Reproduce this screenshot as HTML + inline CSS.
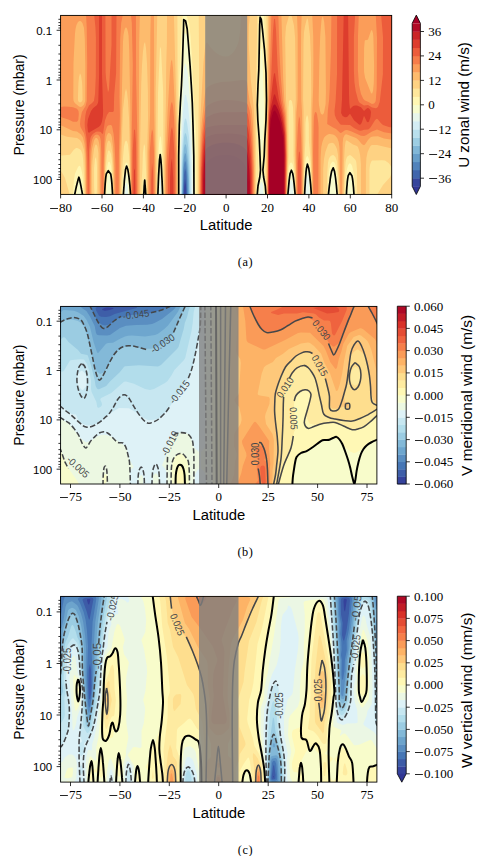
<!DOCTYPE html>
<html><head><meta charset="utf-8"><title>Figure</title>
<style>html,body{margin:0;padding:0;background:#fff}svg{display:block}text{fill:#000}</style></head>
<body>
<svg width="490" height="856" viewBox="0 0 490 856">
<rect width="490" height="856" fill="#fff"/>
<defs>
<clipPath id="c1"><rect x="60.6" y="15.4" width="331.1" height="179.0"/></clipPath>
<clipPath id="c2"><rect x="60.6" y="306.4" width="316.3" height="177.6"/></clipPath>
<clipPath id="c3"><rect x="60.6" y="596.4" width="316.3" height="185.7"/></clipPath>
</defs>
<g clip-path="url(#c1)">
<rect x="59" y="14" width="335" height="183" fill="#313695"/>
<path fill="#36459c" d="M393 196h-334v-182h334v182z"/>
<path fill="#4065ac" d="M393 196h-206.7l-0.3-10.7l-1-6.4l-1 9.2l-0.2 7.9h-124.8v-182h334v182z"/>
<path fill="#5183bb" d="M393 196h-205.9l-0.7-19l-0.4-4.9l-1-3.9l-1 6.5l-0.8 21.3h-124.2v-182h334v182z"/>
<path fill="#679ec9" d="M393 196h-205.2l-0.8-23.7l-1-9.4l-1-2.3l-1 4.4l-0.5 6l-0.8 25h-123.7v-182h334v182z"/>
<path fill="#81b7d7" d="M393 196h-204.5l-0.2-15l-0.8-14l-1.5-12.4l-1-1.9l-1 4.3l-1 11.6l-0.7 27.4h-123.3v-182h334v182z"/>
<path fill="#9dcee3" d="M393 196h-203.8l-0.2-18l-0.9-16l-1.5-14l-0.6-3l-1-1.1l-1 4l-1.2 14.1l-0.9 34h-122.9v-182h334v182z"/>
<path fill="#b9e0ed" d="M393 196h-203.1l-0.4-27l-1.2-21l-1.3-10.5l-1-3.7l-1-0.7l-1 4.3l-1.4 16.6l-0.9 20l-0.2 22h-122.5v-182h334v182z"/>
<path fill="#d4edf4" d="M393 196h-202.2l-0.4-30l-1.4-29.3l-2-14.2l-1-3.8l-1-0.3l-1 5.2l-1.9 24.4l-0.8 21l-0.2 27h-122.1v-182h334v182z"/>
<path fill="#e7f6eb" d="M393 196h-130.9l-0.1-2l-1 0.2l-0.1 1.8h-69l-0.5-35l-1.5-35l-1.9-21.9l-2-9l-1-0.1l-1 6.7l-1 11.6l-1.4 26.7l-0.9 28l-0.2 28h-121.5v-182h334v182z"/>
<path fill="#f7fcce" d="M393 196h-83.1l-0.9-16.4l-1-4.6l-1-0.4l-1 3.7l-0.3 2.7l-0.6 15h-11.4l-0.7-12.7l-1-3l-1-0.5l-1 1.2l-1 4l-0.4 11h-24.8l-0.8-10.5l-1-3.5l-1 0.1l-0.8 2.9l-1 11h-66.1l-0.5-40l-2.1-48l-2.5-33.7l-1.8-9.3l-0.2-0.8l-1-0.6l-1 4.8l-0.3 3.6l-2 39l-1.6 43l-0.3 42h-18.5l-0.3-16.4l-1-4.9l-0.9 21.3h-30.9l-0.4-9l-0.8-3.7l-1-0.4l-1 4.4l-0.4 8.7h-65.6v-182h334v182z"/>
<path fill="#fff7b3" d="M393 196h-39.8l-1.2-14.8l-1-4.8l-1-1.7l-1 1.4l-1 4.6l-1.2 15.3h-10.1l-1-17l-1.7-10l-1-1.1l-1 1.3l-2 9.4l-0.9 10.4l-0.2 7h-18.1l-0.8-20.9l-1-7.1l-1-3.2l-1-0.3l-1 2.6l-1 8.2l-0.5 20.7h-10l-0.5-16.4l-2-8.3l-1-0.6l-1 1.6l-1 3.5l-0.9 9.2l-0.2 11h-23l-0.9-14.9l-1-4.3l-1-1.9l-1 0.1l-0.5 1l-1.5 5l-1 15h-63.4l-0.2-33l-4.3-99l-2.1-26.3l-1-3.2l-1-0.7l-2-0.5l-1 2.5l-0.3 5.2l-2.3 60l-1.2 50l-0.1 45h-17l-0.6-29l-0.5-6.9l-1-2.3l-1.1 10.2l-0.6 28h-29.1l-0.2-12.6l-0.6-5.4l-0.4-2.7l-1-1.9l-1-0.2l-1 2.2l-1 5.7l-0.7 14.9h-11.7l-0.6-16.6l-1-4l-1-1.4l-1 1.5l-1 6.5l-0.5 14h-24.5l-0.6-13l-0.4-2.4l-1-1.8l-1 0.7l-1.2 3.5l-1.3 13h-17.5v-182h334v182zM262 150l1-10.4l1.3-28.6l-2.3-62l-1-0.2l-2.3 64.2l1.3 25.8l1 11.3l1 0.4v-0.5z"/>
<path fill="#fee79b" d="M178 196h-15.2l-0.2-27l-0.6-19.3l-1-12.2l-1-1.5l-1 7.5l-0.9 17.5l-0.5 35h-11.5l-0.4-11l-0.7-6.3l-1 0.4l-0.7 3.9l-0.5 13h-13.2l-0.6-25.1l-1-6.7l-1-1.5l-1-0.3l-1 1.7l-0.4 1.9l-1.6 11.7l-0.7 18.3h-9.9l-0.2-16l-0.5-8l-0.7-6.1l-1-3.3l-1-1.2l-1 1.2l-1 5.7l-1 10.7l-0.4 17h-22.3l-0.3-17l-1-6.6l-1-4.4l-1-2.2l-1 0.1l-1 1.2l-3.1 6.9l-1.1 7l-0.9 15h-13.9v-182h124.1l-1.2 7l-0.6 8l-2.3 58l-0.5 109h-0.5zM256 196h-59.6l-0.1-47l-0.7-27l-1.6-17.6l-1.6-39.4l-2-30l-1.4-11.9l-2.3-7.1l-0.3-2h72.7l-0.9 29l-1 68l0.5 36l0.8 23l-1.2 12l-0.4 14h-0.9zM393 196h-37.7l-0.4-13l-0.9-8.6l-1.9-8.4l-1.1-2.1l-1-0.6l-1 0.5l-1 1.6l-1.2 4.6l-1.1 10l-0.6 16h-7.2l-0.5-16l-1.2-12l-1.2-4.6l-1-1.5l-1-0.4l-1 0.5l-1.4 2l-1.6 6.7l-0.9 11.3l-0.3 14h-16.4l-0.3-18l-1.1-13.6l-1-5.2l-1-2.8l-1-0.5l-1 2.1l-1 6l-0.9 17l-0.1 15h-8.9l-0.2-13l-0.9-11.4l-1-6.3l-1-2.5l-1-0.4l-1 0.9l-1 3.2l-1.2 13.5l-0.3 16h-21.8l-0.3-13l-1.1-13l1.4-59l-0.7-71l-1.1-26h129.1v182z"/>
<path fill="#fed283" d="M177 196h-13.4l-0.4-104l-2.2-43.1l-1-2.2l-2 46.5l-1.1 102.8h-10.2l-0.2-14l-1.3-32l-0.2-3.8l-1-2.1l-1.1 8.9l-0.5 17l-0.9 13l-0.1 13h-11.3l-0.2-17l-0.9-24.3l-1-10l-1-3.1l-1-1l-1 1.4l-1 4.4l-1 11l-1.4 24.6l-0.2 14h-8.5l-0.2-20l-0.7-15l-1-6.9l-1-2.7l-1-1.1l-1 0.8l-1 4.4l-1 9.5l-0.8 17l-0.2 14h-8.5l0.5-8v-20l-0.3-6l-0.7-5.1l-1 2.1l-0.9 9v18l0.5 10h-10.2l-0.2-18l-1-18l-0.8-6l-1.4-3.7l-2-1.6l-2-0.8l-1 0.1l-2.4 2l-3.6 4.7l-8 0.7l-2.6 0.6l-0.4 0.8v-142.8h118.4l0.5 182h-0.9zM256 196h-58.3l0.1-33l1.4-91l-0.5-58h58.7l-1.5 82l0.1 100zM393 196h-16l0.5-2l5.5-9l7-7.8l2.8-6.2l0.1-1l-0.4-1l-2.3-4l-1.6-2l-3.6-2.4l-3-0.4l-9 0.2l-1 0.2l-1 1.4l-1 3.1l-0.5 3.9v27h-12.3l-0.2-26l-0.6-7l-0.4-2l-1-1.7l-3.4-3.3l-1.6-0.9l-2 0.8l-1 1.2l-1 2.6l-0.4 2.3l-1 15l-0.5 19h-5.5l-0.4-19l-1.2-15.5l-1.6-4.5l-1.4-1.6l-1-0.3l-2 0.7l-1.2 1.2l-1 2l-0.8 3.8l-0.8 11.2l-0.3 22h-15l-0.9-32.2l-2.1-22.8l-0.1-17l-0.8-7l-1-1.9l-1 3l-0.6 5.9v17l-1.4 25.9l-0.5 29.1h-8l-0.3-18l-1.7-22v-33l-0.5-15.6l-1-6l-1-1.3l-1-0.1l-1 1.1l-0.5 6.9l0.2 48l-1.4 25l-0.1 15h-20.9l-0.5-26l0.7-62l0.2-69l-0.3-25h126.6v182zM69 196h-10v-27l3 3.5l3 5.6l4.5 15.9l0.2 2h-0.7z"/>
<path fill="#fdbb6d" d="M156 196h-8.5l-0.4-43l0.9-34l-0.1-27l-0.9-28.4l-1-15.3l-1-6.2l-1 1.8l-1 7.4l-1 13.9l-0.8 19.8l-1.2 66v45h-9.5l-0.3-31l-1.2-47l-1-17l-1-9l-1-3.4l-1 3.7l-2.1 17.7l-2.3 71v15h-7.1l-0.2-27l-0.9-16l-1.4-9.1l-1-2.3l-1-1.1l-1 0.4l-1 2.8l-1 7l-1 17.6l-0.5 27.7h-6l-0.1-43l-0.9-6l-0.5-1.6l-1-1.1l-1 1.2l-1 3.5l-1.5 12l-0.4 8l0.1 27h-7l-0.2-27l-0.5-14l-0.5-5.1l-2-6.7l-2-3.1l-3-2l-10-1.4l-8-2.7v-120h98.3l-1.6 78l0.3 104zM177 196h-12.6l0.1-32l1.4-63l0.3-35l0.7-24l0.1-28h6.9l3.1 116.9l0.3 50.1v15h-0.3zM255 196h-56.4l0.3-34l1.4-44l3.2-56l1.5-13.5l1-5.2l1-1.1l3.4 4.8l3.6 4l3 2.5l3 1.8l3 1l3 0.3l2.7-0.6l2.3-1.4l2.5-2.6l2-3l1.9-4l1.3-4l1.7-12l0.6-15h9l-1.1 12l-0.2 18l2.1 36l2.8 26l0.6 10l0.7 32l0.1 48zM365 196h-4l-0.1-32l-0.8-9l-1.1-5l-1-2.7l-1-1.3l-4-1.6l-6-3.9l-1 0.1l-0.5 1.4l-0.8 6l-0.8 16l-0.6 32h-3.9l-0.3-17l-1.1-24.2l-1-5.6l-1-2.5l-2-3.3l-2-0.6l-3 0.7l-1 1.2l-2.6 7.3l-1.4 6.9l-0.8 10.1v27h-10.9l-1.2-54l-0.3-30l0.5-19l-0.4-35l-0.9-21.7l-2-16.5l-1-1.7l-2 8.2l-1 6l-0.5 10.7l-0.4 56l0.5 12v33l-0.5 52h-7.2l-0.1-15l-0.9-26l0.3-43l0.6-13l-0.7-61l-1.1-12.2l-2-8.6l-1-2.1l-1-1l-0.3 0.9l-0.7 0.6l-3 10.8l-0.8 11.6l0.8 61l1 13l0.7 33v13l-0.8 24l-0.1 14h-19.9l-0.2-42l1.5-140h124.8v134.7l-16-3.7h-5l-1 0.5l-1 1.3l-2.4 5.2l-1.2 6l-0.5 10v28h-0.9zM81.4 102l1.2-2l-0.3-13l-0.3-5.3l-1-6.5l-1-1.9l-1 3.7l-0.6 6l-0.5 16l0.3 2l0.8 1l1 0.5l1.4-0.5z"/>
<path fill="#fb9d59" d="M138 196h-7.1l-0.6-88l-1.1-58l-0.6-14l-0.6-4l-1-3.5l-1-1.2l-1 1.1l-0.5 1.6l-1 5l-0.5 7.1l-1.7 78.9l-1.2 33l-0.4 42h-5.4l-0.2-28l-1-21l-1.3-10l-0.8-2.4l-1-1.2l-1-0.5l-1 0.3l-1.4 2.8l-1.3 8l-0.8 21l-0.5 31h-4l-0.2-47l-0.7-6l-0.8-3l-1.3-1.9l-1-0.2l-1 0.7l-1.1 2.4l-1.7 7l-0.6 5l-0.6 13l-0.1 30h-4.9l-0.1-28l-0.4-14l-1-10l-1.5-6.5l-2-2.9l-4-3.2l-4-0.5l-11-5.1l-3-0.8v-111h80.9l-0.7 28l-0.6 154h-0.6zM155 196h-6.7l0.1-44l1.7-39l0.2-77l0.5-22h3.2l0.2 99l0.9 47l0.2 36h-0.3zM286 196h-18.7l0.2-70l2.1-112h11.8l1.8 65l1.2 22l1.6 12.4l1 23.6l0.2 22l-0.8 37h-0.4zM302 196h-5.6l-0.6-44l0.6-39l1.2-13l0.1-22v-43l-0.7-21h4.7l-0.6 18l-0.1 24l0.3 44l0.7 12l0.7 47l-0.1 37h-0.6zM342 196h-1.8l-0.5-42l-0.3-7l-0.7-5l-1.5-4l-2.2-2.5l-2-0.9l-3-0.5h-1l-2.1 0.9l-1.9 1.4l-1 1.3l-1.6 4.3l-1.1 5l-0.7 11l-0.1 38h-7.7l-0.7-57l0.2-27l0.9-26l0.2-26l-0.2-24l-1-22h80.8v126l-9-1.6l-6-2.2l-5 0.3l-2 0.6l-1.1 0.9l-1.9 2l-3 4.6l-1 0.7l-2-1.1l-4-4.7l-2-1.6l-9-3.5l-1-0.2l-1.3 0.8l-1.5 3l-0.5 5l-0.7 53zM323.3 114l0.7-1.2l1.6-8.8l0.3-12l-0.5-55l-1.2-15l-1.2-5.6l-1 1.2l-0.6 3.4l-1.2 15l-0.8 23l-0.7 41l0.3 5l1.3 7l0.7 1.7l1 0.8h1l0.3-0.5zM80.5 107l1.5-0.6l2-1.8l1.2-3.6l0.1-35l-0.5-27l-0.8-11l-1.6-5l-1.4-1.7l-1-0.4l-1 0.3l-1 0.9l-1.5 2.9l-1 4l-0.6 6l-1.4 28l-0.2 35l0.3 3l1.2 2l4.2 3.5l1.5 0.5zM372.3 93l0.7-2l0.8-8l0.3-17l-0.7-28l-0.4-4.7l-1-3.4l-1 0.8l-3 8.7l-1 0.6l-2 0.2l-0.3 0.8l-0.6 7l-0.1 17l0.1 7l1 6l5.9 14.9l1 0.8l0.3-0.7zM176 196h-10.7l0.2-32l2.1-52l2.4-41.8l1-8.7l1-2l1 8.3l3 60.2l0.6 25v43h-0.6zM254 196h-54.6l0.2-29l1.1-30l1.2-16l3.1-27.2l1-4.8l1-1.6l3-1.9l4-1.8l7-1.7l9-0.5l12-1.5l4 0.3l1 1.6l2.6 19.1l2.2 9l1.1 13l1.2 42l0.2 31h-0.3z"/>
<path fill="#f67c4a" d="M118 196h-2.5l-0.1-32l-0.8-19l-1-11l-1.6-7.9l-1-1l-1-0.1l-2 0.5l-1 1.3l-1.5 4.2l-0.9 6l-0.9 27l-0.3 32h-2l-0.1-43l-0.5-12l-0.5-3l-0.9-2l-1.1-1l-1.3-0.4l-2 0.5l-1.7 1.9l-1.3 3l-0.8 4l-0.8 7l-0.3 9l-0.2 36h-3.2l-0.1-34l-0.9-19l-0.7-5.7l-1-4l-3.5-6.3l-0.5-3l0.4-5l1.5-7l3.7-6l1.2-5l0.4-39l-0.5-35l-0.7-13h37l-1.8 9l-1 16l-0.7 58l0.4 18l-1 39l-0.2 42h-0.7zM137 196h-5.5l0.2-57l1.1-74l-1-42l-0.8-7.2l-1-1.8h5.9l0.2 62l1.3 63l0.1 57h-0.5zM286 196h-18.4l0.4-73l2.1-59l1.3-50h6.9l1.2 39l1.2 23l2 24l2.4 15l1.2 20l0.4 21l-0.7 40zM366 135.2l-2 0.7l-3-0.2l-10-4.5l-4-1.1l-2 0.1l-4 2.8l-1-0.2l-4-3.9l-3-1.3l-5.8-3.6l0.6-13l1.3-11l0.6-11l1.3-41l0.4-34h27.4l-0.8 22l-0.1 34l1.1 14.9l2 9.1l2.4 5l1.6 1.6l3 1.1l4 2.2l2-0.4l1-1l0.7-1.5l1-13l0.3-50l-1.3-24h17.3v119.8l-9-1.6l-7-2.7l-5 2l-6 3.7zM253 196h-52.9l0.2-23l0.7-21l1-17.1l1.6-14.9l1.4-9.4l1-3.4l2-1.9l5-2.7l4-1.4l4-0.9l5-0.3l6 0.2l7 0.9l7 1.7l1 0.7l1 1.8l1.5 4.7l0.8 4l1.9 23l1.2 31v28h-0.4zM175 196h-8.6l0.1-29l1.1-22l2.4-34.5l1-6.7l1-2l1 4.3l1 11.2l1.7 33.7l0.2 45h-0.9zM77 121.7h-4l-4-2l-10-3.2v-9.1l5-0.8l5 0.1l4 0.6l4 1.5l1.5 2.2l0.3 3l-0.5 6l-1.3 1.7zM318 196h-4.6l-0.3-43l0.7-32l0.2-4.7l0.5-2.3l0.5-1.8l1-0.1l1 2l1.3 8.9l0.3 5l-0.3 68h-0.3zM301 196h-4.1l-0.2-45l1.3-26l1-8.8l1 2.6l1.1 18.2l0.8 27l0.1 32h-1zM154 196h-4.4l0.1-44l1.3-15.9l1-6.8l1 2.8l1 19.9l0.4 44h-0.4z"/>
<path fill="#ec5c3b" d="M88 196l-0.5-44l-1-14l-1.7-11l-0.1-4l0.6-7l1-5l2.7-5.6l3.1-2.4l1.8-2l1.1-6.9l0.8-18.1l0.1-38l-0.5-11l-1.3-13h11.3l0.2 58l0.5 7l1.9 13.3l1-2.8l2.5-44.5v-31h5l-0.4 59l-1.9 22l-0.4 16l-0.8 0.9l-4 0.1l-2 3.1l-2 5.5l-2 13.2l-1-0.1l-1-1.4l-1-0.6l-2-0.3l-2 0.3l-3.2 2.3l-1.5 2l-0.8 2l-0.8 5l-0.6 7l-0.4 17l-0.1 29h-0.6zM362 130.4l-2 0.3l-1-0.3l-5-2.3l-4-3l-9-0.3l-1-0.7l-3.7-5.1l-1.5-4l-0.3-4l1.1-10l1.4-27l0.1-60h18.1l-1.3 23v34l0.5 11l1.3 9l2.4 9l0.9 1.9l1 1l4 2.6l4-0.4l4 2.3l4 0.8l1-0.4l1-1.1l1.7-4.7l3.2-28l0.1-37l-2-23h12v113.6l-4.2-0.6l-5.8-2.1l-2-1.6l-3-3.9l-1-0.6l-1 0.4l-1 1l-4.2 6.8l-1.8 2l-1 0.5l-4 0.2l-2 0.7zM285 196h-17v-47l0.6-34l2.7-41l1.7-43l1-11.8l1-0.4l1 10.6l1.5 35.6l1.1 15l2.5 21l3.2 16l1.4 17l0.5 25l-0.5 37h-0.7zM252 196h-51.2l0.3-28l1.2-23l1.2-13l1.5-10.5l1-3.5l1-1.1l7-3.1l7-1.5l24-0.3l2 0.5l1 2.3l1 5.8l1.6 14.4l1 13l1 26v22h-0.6zM174 196h-6.1l0.3-31l1.8-25.4l1-9.3l1-3.2l1 5l1.5 21.9l0.3 42h-0.8zM136 196h-3.7l0.4-45l1.3-21.3h1l1 13.3l0.6 53h-0.6zM301 196h-3.1v-33l1.1-11.8l1 1.6l0.9 13.2l0.1 30zM153 196h-1.8v-15l0.8-18.2l1 8.6l0.3 24.6h-0.3z"/>
<path fill="#dd3d2d" d="M90 132.1l-1 0.8l-1-1.1l-0.1-0.8l-0.6-6l0.7-6l3-8l2.3-3l3.7-3.1l0.9-1.9l0.4-2l0.8-26v-61h2.9v60l1.1 37l-0.2 5l-0.9 5.4l-1 2.9l-1 1.5l-1.4 1.2l-8.6 5.1zM360 124.7l-1-0.3l-5-4.1l-4-6.6l-2.9 3.3l-2.1 0.3l-2.4-1.3l-1.5-3l0.9-13.8l1.7-85.2h4.4l0.9 79.3l0.3 9.7l0.7 6l3.1-3l1.9-0.5l2 0.1l4 1.6l3 3.7l3-2.6l1-0.2l1 0.4l1.3 1.5l0.7 2l-0.5 5l-1.5 4.4l-1 0.9l-1-0.4l-3-6.1l-2 6.2l-1 2l-1 0.7zM285 196h-16.7v-48l0.7-32.7l4-35.2l1-6.7l1-0.1l3.8 25.7l2.9 11l1.6 8l1.7 14.2l0.7 22.8l-0.4 41h-0.3zM251 196h-49.5l0.3-27l1.1-19l2.1-18.2l1-3.6l1-1l7-1.5l7-0.6l24-0.1h1l1 0.6l1 3l1 6.3l2 21.6l0.7 16.5l0.1 23h-0.8zM173 196h-3.1l0.2-19l0.9-13.7l1-4.9l1.3 20.6l0.1 17h-0.4zM135 196h-1.5l0.5-27.5l1 2.2l0.3 25.3h-0.3z"/>
<path fill="#ca2427" d="M284 196h-15.4v-47l0.6-28l0.8-9.4l1-5.2l3-11.9l1-0.1l6 18.5l2 9.5l1.5 11.6l0.7 19l-0.3 43h-0.9zM250 196h-47.8l0.2-20l1.2-21l1.4-12.6l1-4.3l1-1.3l4-1.6l5-1.1l13-0.5l7 0.3l5 0.8l4.3 1.3l1.7 1.5l1 3.9l1 7.5l1.4 18.1l0.6 29h-1z"/>
<path fill="#b10b26" d="M284 196h-15.1l0.1-49l0.7-24l0.3-4.2l1.4-7.8l1.6-5l1-1.4l1-0.1l1 1.2l2.2 4.3l1.8 5.3l2 8.5l2 12.5l0.6 18.7l-0.2 41h-0.4zM249 196h-45.9l0.1-15l0.8-16.2l1-10.5l1-5.1l1-1.5l5-2.7l5-1.5l5-0.7l7-0.1l5 0.6l5 1.5l4 2.2l3 2.7l1 1.9l1 5.1l1.1 11.3l0.8 14v14h-0.9z"/>
<path fill="#a50026" d="M283 196h-13.6l0.1-44l0.5-22.8l1-9l1-4.5l1-3.2l0.8-1.5l1.2-0.4l2 3.3l3 8.1l3.1 16l0.7 20l-0.1 38h-0.7zM248 196h-43.3v-15l0.8-12l0.5-4.2l1-2.6l1-1.2l3-2.4l4-2l4-1l5-0.6l5 0.1l5 1l4 1.8l2.9 2.1l2.1 2.3l1.8 2.7l1.2 2.6l1 3.5l1.2 10.9l0.1 14h-0.3z"/>
<path d="M74.3 196.4L74.8 194.0L75.3 191.6L75.8 189.2L76.3 186.8L76.9 184.4L77.5 182.0L78.1 179.6L78.9 177.2L79.6 179.6L80.1 182.0L80.6 184.4L81.1 186.8L81.5 189.2L82.0 191.6L82.4 194.0L82.8 196.4M104.5 196.4L104.6 193.2L104.8 190.0L105.0 186.8L105.2 183.6L105.5 180.3L105.8 177.1L106.3 173.9L108.3 170.7L110.7 173.9L111.2 177.1L111.6 180.3L111.9 183.6L112.1 186.8L112.3 190.0L112.5 193.2L112.7 196.4M123.3 196.4L123.5 192.6L123.8 188.8L124.1 185.0L124.3 181.2L124.7 177.4L125.1 173.6L125.5 169.8L126.6 166.0L127.9 169.8L128.5 173.6L129.0 177.4L129.4 181.2L129.8 185.0L130.1 188.8L130.4 192.6L130.7 196.4M143.6 196.4L143.7 194.3L143.9 192.3L144.0 190.2L144.1 188.2L144.2 186.2L144.4 184.1L144.5 182.1L144.7 180.0L144.9 182.1L145.0 184.1L145.2 186.2L145.3 188.2L145.5 190.2L145.6 192.3L145.8 194.3L145.9 196.4M157.8 196.4L158.0 191.2L158.2 186.0L158.4 180.8L158.6 175.6L158.9 170.3L159.2 165.1L159.5 159.9L160.2 154.7L160.9 159.9L161.3 165.1L161.6 170.3L161.8 175.6L162.1 180.8L162.3 186.0L162.5 191.2L162.7 196.4M287.8 196.4L288.0 193.1L288.3 189.8L288.6 186.6L288.9 183.3L289.2 180.0L289.6 176.8L290.1 173.5L291.4 170.2L292.7 173.5L293.3 176.8L293.7 180.0L294.1 183.3L294.4 186.6L294.7 189.8L295.0 193.1L295.2 196.4M304.5 196.4L304.7 192.4L304.9 188.3L305.2 184.3L305.4 180.3L305.7 176.3L306.0 172.2L306.5 168.2L307.4 164.2L308.7 168.2L309.3 172.2L309.8 176.3L310.2 180.3L310.6 184.3L310.9 188.3L311.2 192.4L311.5 196.4M328.3 196.4L328.6 192.8L329.0 189.2L329.4 185.7L329.9 182.1L330.3 178.5L330.9 175.0L331.6 171.4L333.2 167.8L334.5 171.4L335.1 175.0L335.6 178.5L336.0 182.1L336.4 185.7L336.7 189.2L337.0 192.8L337.3 196.4M346.3 196.4L346.5 193.4L346.6 190.5L346.8 187.5L347.1 184.6L347.3 181.6L347.7 178.6L348.2 175.7L349.9 172.7L351.9 175.7L352.5 178.6L352.9 181.6L353.2 184.6L353.5 187.5L353.7 190.5L353.9 193.4L354.1 196.4M178.7 196.4L178.7 156.0L179.3 125.0L180.4 103.0L181.5 85.0L182.3 66.0L183.0 45.0L183.5 29.0L183.7 19.6L185.6 21.0L187.2 29.0L188.5 45.0L190.1 66.0L191.3 85.0L192.3 103.0L193.0 125.0L193.8 156.0L194.0 196.4M257.1 196.4L258.0 186.0L259.8 177.0L260.5 170.0L260.0 156.0L259.3 140.0L257.8 120.0L257.3 105.0L258.0 85.0L258.8 70.0L259.3 45.0L259.7 25.0L260.1 17.2L261.3 19.5L262.5 30.0L264.5 50.0L266.0 73.0L266.5 100.0L266.0 120.0L264.8 140.0L264.2 156.0L262.9 170.0L263.6 177.0L265.3 186.0L266.1 196.4" fill="none" stroke="#000" stroke-width="1.7" stroke-linejoin="round"/>
<rect x="205.2" y="15.4" width="42.0" height="179.0" fill="#808080" fill-opacity="0.8"/>
</g>
<g clip-path="url(#c2)">
<rect x="59" y="305" width="320" height="181" fill="#35429b"/>
<path fill="#3e5ea8" d="M378 485h-319v-180h319v180zM109.7 310l3.1-1l1.1-1l-5.9-0.5l-3 0.3l-2.6 1.2l-0.2 1l2.8 0.7l4.7-0.7z"/>
<path fill="#4676b5" d="M378 485h-319v-180h319v180zM106 317l4-0.7l4.6-2.3l21.8-6l0.8-1l-12.2-1.1l-17-0.4l-9 0.7l-3 1.2l-0.4 0.6l0.3 2l3.1 5.7l2 1.1l5 0.2z"/>
<path fill="#5a8ec1" d="M378 485h-319v-180h30.7l1 3l6.3 12.3l2 2.2l3 2.3l3 0.8l5-1.4l7-5.1l5-2.2l9-1.8l17-1.6l5-1l10.5-3.5l3.8-2l2-2h208.7v180z"/>
<path fill="#6ea6ce" d="M378 485h-319v-180h22l0.1 2l0.7 1l4.6 3l3.6 5.5l4.7 9.5l1.3 7l1 1.7l2 0.5l8 0.4l3-0.6l10-6.9l6-2.3l10-0.9l11-0.2l5-0.8l3-1.1l7-3.9l11-8.7l2.2-2.2l1.4-3h201.4v180z"/>
<path fill="#83b9d8" d="M378 485h-319v-171.8l1.1-0.2l2.9-2.8l1-0.3l10 0.9l4 1.4l5.8 3.8l2.8 4l3.4 7l3.6 15l3.4 10.2l1 1.1l8-9.5l2-0.7l5-0.3l7-4.1l5-2.3l3-0.7l4-0.2l13 1l10-1.5l3-1.3l6-4.4l4-3.8l10-13.8l3.1-6.7h196.9v180z"/>
<path fill="#9bcce2" d="M378 485h-319v-162.8l8-2.7h5l6 1.6l3 2l2 2.2l2 4l2 6.5l4.7 17.2l3.3 15.1l2 3.4l3 2.4l3-1.2l2-1.6l9-16.3l3.3-3.8l4.7-3.3l4-1.2l5-0.3l5 0.7l7 1.8l8 0.1l5-1.2l6-3.1l6.2-5.5l4.8-5.6l12.6-28.4h192.4v180z"/>
<path fill="#b2ddeb" d="M378 485h-319v-146.6l1 1.8l3-2.9l2 0.3l3.5 4.4l9.5 8.1l3 3.7l6.3 1.2l0.7 1l3 9.4l3.7 14.6l0.9 6l1.4 2.6l1 0.7h1l7.2-3.3l3.8-4.4l10-9.6l3.9-5l1.1-0.7l14-1.1l19 1.3l3-1.6l16-15.8l1.5-2.1l5.2-18l1.1-6l2.3-6l1.4-6l2.1-6h187.4v180z"/>
<path fill="#c7e7f1" d="M378 485h-319v-113l4-0.6l1-0.9l6-10l2-0.6l8-0.7l4 0.3l3 4.5l2.3 7l1.8 10l-0.1 8l0.6 3l4.8 10l0.8 5l0.8 0.7l1 0.1l2-1.2l1-1.6l-0.2-2l-1.4-3l-0.1-1l0.8-1l10.2-5l12.7-11.3l2-0.2l8 2.3l11 5.3l5 0.9l4-1.1l11-6l2.6-1.9l4.1-6l2.7-5l9.6-10l1.2-2l6.3-27l1.2-8l1-11l1.9-7h182.4v180z"/>
<path fill="#def2f7" d="M378 485h-319v-79.4l3 1.3l9 6.8l2 0.6l3 0.1l2.3 5.6l1.7 2.3l4 2.3l4 0.9l5-0.5l4-1.4l5-3.4l8-6.7l9-5.4l10 0.1l8 4.8l5 4.3l6 2.8l2 0.2l5-0.7l3-0.8l2-1.2l7-7.2l12.5-17.4l8.3-14l4.1-10l4.6-20l3-19l0.6-7l0.5-18h177.4v180zM83 389.9h-1l-4-4.2l-1-4.7l0.1-4l0.9-2.9l2-2.4l2-1.3l3 2.8l1 1.5l1 6.3l-0.2 3l-0.8 2.4l-3 3.5z"/>
<path fill="#ecf8e2" d="M378 485h-172.3l0.4-4l-0.4-6l-1.7-3.6l-1.7-1.4l-0.3-0.9l-0.7-0.1l-0.3-1v-16l3-3.6l1-2l0.3-2.4l-0.1-10l-0.9-4l1-3l0.4-5l-0.8-35l0.2-82h172.9v180zM129 485h-70v-66.9l3 1.2l7.1 4.7l4.9 5.4l6 8.3l6 4.8l5-1.8l6-4.3l4-1.4l3-0.3l3 0.6l5 1.8l12 8.2l2.8 3.7l2.4 10l4.5 8l-2.7 2.6l-1.1 2.4v13h-0.9zM194 485h-27.4v-13l-1.6-3.6l-1.7-1.4l-0.3-0.9l-0.7-0.1l-0.2-1l3.9-9.1l1.6-7.9l3.1-9l2.3-3.2l4-2.4l3-0.6h4l3 0.8l2.4 1.4l0.8 1l3 10l1.8 2.4l4 3.6v16l-0.2 1l-0.8 0.4l-1 1.3l-2 3.7l-0.5 5.6l0.4 5h-0.9zM157 485h-4.3l0.3-8.7l1-1.8l2-1.4l2 2.6l1.5 4.3l-1.5 4.4l-1 0.6zM142 485l-2-0.4l-1.9-4.6l0.9-2.6l2-2.3l1 0.2l1 1.6l0.5 2.1l-0.5 5l-1 1z"/>
<path fill="#f8fccb" d="M378 485h-166.1l-1.2-180h167.3v180zM79 485h-20v-36.1l1 1l3 5.8l5 11.9l9.4 13.4l1.6 3l0.3 1h-0.3zM189 485h-17.9l0.3-14l0.9-8l0.7-2.3l2-3.7l2-2.1l2-1.1l2-0.2l2 0.9l3 3.4l2 3.4l0.7 3.7l0.5 7l0.2 13h-0.4zM104 484.7l-1 0.1l-0.6-5.8l0.6-2.5l2-2.4l1 0.2l1 1.2l0.7 1.5l0.2 2l-0.9 2.7l-3 3z"/>
<path fill="#fff8b5" d="M292 485h-75.4l-0.7-180h162.1v135.5l-3 0.5l-4.3 2l-7.7 5.7l-8 4.3h-2l-1-1h-1l-2-1.5l-5-4.1l-4-5.5l-3-2.1l-2-0.3l-2 0.2l-9 1.9l-3 1.2l-13 8.6l-6 2.6l-4.3 4l-1.7 3.4l-1 3.9l-1.7 10.7l-0.3 10h-1zM182 485l-4-0.2l-1-1.6l-0.7-3.2l0.1-5l0.9-5l0.7-2.2l1-1.3l1-0.4l1 0.3l1.3 1.6l1.8 7l-0.1 6.8l-1 2.3l-1 0.9z"/>
<path fill="#feeba1" d="M279 485h-58.5l0.1-180h157.4v111l-13 10.4l-4 2.1l-6 1.5l-4-0.4l-13.6-5.6l-3.4-0.8l-8 0.4l-9 1.4l-7-1.3l-1-0.6l-3.7-9.1l1.7-3.9l2-8.1l0.9-5l-0.3-3l-1.1-2l-2.5-1.5l-3 0.3l-3 1.5l-3.4 3.7l-1.6 3.3l-1 3.7l-0.1 6l1 4l-0.9 3v6.1l1 3.5l1.2 1.4l0.2 1l-2.4 4l-2.7 15l-7.3 19.5l-4.5 18.5h-0.5z"/>
<path fill="#fede8e" d="M276 485h-52.3l1.8-180h152.5v104.2l-2.4 0.8l-15.1 8l-7.5 2.7h-5l-10.9-1.7l-6.1-1.2l-5-1.8l-2-1.7l-1.4-2.3l-5.6-27l-2.9-8l-2.1-3.8l-3.2-4.2l-1.8-1.4l-2-0.9h-4l-4 2l-4 4.3l-5 8.4l-2 4.6l-1.7 7l-0.8 8l-1.4 50l-2.1 15l-3.7 19h-0.3zM356.2 385l1.8-1.2l1.8-2.8l0.7-3v-4l-0.5-2.8l-1-1.7l-2-1.9l-2-0.5l-2 1.4l-1.9 3.5l-0.5 7l0.4 2.7l1 1.7l3 2.3l1.2-0.7z"/>
<path fill="#fec87a" d="M273 485h-46.2l1.1-30l0.3-25l0.6-9l-0.2-20l1.2-33l0.8-63h147.4v99.1l-2.4-1.1l-1.9-2l-1.7-4.4l-1.3-5.6l-0.7-11l-1.1-8l-3.9-15.7l-2-3.1l-5-3.6l-1-0.1l-3 2.2l-3 3.4l-2.7 12.9l-4.1 29l0.7 5l3.1 1.6l1 1.4l0.1 2l-1.1 1.2l-2.1-0.2l-2.9-1.6l-2.7 1.6l-4.3 0.8l-3-0.1l-2-1.3l-1.4-3.4l-0.7-10l-3.9-15.6l-8-17.8l-4-5.8l-3-2.1l-4-0.6l-4 0.9l-6 3.1l-9.1 8.9l-2.2 3l-4.4 9l-3.8 11l-1.2 9l-0.7 16l1 11l1.8 13l0.5 14l-2.6 25l-1.5 9h-0.8z"/>
<path fill="#fdb366" d="M271 485h-40.9l0.4-2l1.7-3l1.9-6l0.8-12l2-7l-0.3-2l-2.7-7l0.1-11l1-2.8l5.6-8.2l1-4l-0.3-4l-2.2-9l-3.1-3.6l-1.7-3.4l1.7-3l2.2-2l0.8-2l1.8-30l-0.6-4l-3.2-5l-0.9-3l1.6-32l-1.9-14h142.2v70.8l-1-2.6l-5.6-23.2l-2.4-6.3l-1.6-2.7l-2-2l-4.4-3.6l-2-0.5l-5.3 2.1l-6.5 9l-3 14l-1.9 13l-2.7 12l-1.6 4.7l-1 1.4l-1-0.3l-6.1-17.8l-5.4-10l-3.5-9.6l-7-7.3l-4-3.2l-2-0.3l-7 1l-12.1 5.4l-6.2 5l-6.7 3.9l-3.1 4.1l-6.9 3.5l-2 1.7l-2.4 6.8l-4 20l0.7 1l1.7 0.6l9 1.3l0.8 2.1l-0.4 5l-3.9 10l-0.5 3l1 7l6.5 10l1.4 6l-0.4 24l-0.9 6l-0.1 8l-0.8 7h-0.7z"/>
<path fill="#fa9b58" d="M336 369l-1-0.6l-4.8-6.4l-4.2-11.1l-2.5-4.9l-13.5-13.3l-9-0.1l-3 0.5l-12.9 6.9l-20.1 9.6l-2-0.2l-15-6.8l-1.2-1.6l-0.4-2l-1.1-18l-2.5-16h135.2v43.6l-2.1-7.6l-1-2l-12-10l-1.9-0.8l-1 0.1l-9 3.7l-2 1.6l-5.8 10.4l-1.7 7l-2.7 8l-1.8 8.5l-1 1.5zM269 485h-31.9l4.2-12l1.5-7l3.7-10l-0.3-3l-3.8-9l-0.5-3l10.1-16l2-2.8l1-0.5l1 0.6l3 3.6l10.2 15.1l-0.2 8l1.3 15l-0.5 5l0.4 6l-0.4 10h-0.8z"/>
<path fill="#f67f4b" d="M335 346.1l-1 0.7l-1-0.4l-4-3.2l-8.8-15.2l-6.2-7l-3-2l-2-0.6l-4-0.2l-10 3.2l-12 7.1l-6 2.4l-8 1.1l-5-1.4l-3.4-2.6l-4.6-8l-4-8.7l-1.3-4.3l-0.1-2h104.4l-7.6 20l-2.9 5l-4.5 11.2l-2 2.6l-3 2.3zM378 323.1l-2-1.3l-1.2-1.8l-6.2-12l-0.9-3h10.3v18.1zM267 485h-12.8l3.7-4l0.1-1l-1.4-14l0.4-2.3l1.7-2.7l-1.7-2.2l-0.8-1.8l-0.3-7l1.1-2.4l1-1.1l2-0.9l2 0.8l2 2l1.6 4.6l0.2 3l-1.5 4l1.7 1.6l1.3 3.4l0.7 18l-0.1 2h-0.9z"/>
<path fill="#ef633f" d="M335 335.1l-1 0.5l-1-0.5l-1-1.9l-1.2-10.2l-0.8-2l-2-0.5h-4l-5-3.1l-3-3l-2-1l-11-1.2l-6 1.3l-13 0.1l-6 1.3l-6.8-1.9l-0.1-1l4.9-1.9l6.2-3.1l7.8-1.2l18.1-0.8h34.4l1.5 0.5l2.6 1.5l0.3 1l-0.3 2l-4.5 11l-7.1 14.1zM378 310.7l-1.1-0.7l-3.1-5h4.2v5.7zM265 484h-2l-0.9-1l-1.1-4l-0.9-11l0.9-1.9l2-0.7l1.4 0.6l0.7 2l0.7 14l-0.8 2z"/>
<path fill="#e44c34" d="M333 313l-6 0.5l-13.7-5.5l5.5-1l11.2-0.5l5.8 0.5l2.5 1l0.9 2v1l-0.8 1l-5.4 1z"/>
<path d="M89.4 305.0C90.0 306.2 91.6 309.2 93.0 312.0C94.4 314.8 96.3 319.3 98.0 322.0C99.7 324.7 101.3 327.4 103.0 328.2C104.7 328.9 106.2 327.7 108.0 326.5C109.8 325.3 111.8 322.7 114.0 321.0C116.2 319.3 119.8 317.1 121.0 316.3M151.0 312.8C152.5 312.4 157.2 311.4 160.0 310.5C162.8 309.6 165.9 308.3 168.0 307.4C170.1 306.5 171.8 305.4 172.5 305.0M59.5 322.5C60.8 321.9 64.6 319.8 67.0 319.0C69.4 318.2 71.5 317.4 73.7 317.5C76.0 317.6 78.8 318.4 80.5 319.7C82.2 320.9 82.9 322.8 84.0 325.0C85.1 327.2 86.3 330.2 87.2 333.2C88.1 336.2 88.8 339.6 89.5 343.0C90.2 346.4 91.0 350.2 91.7 353.4C92.4 356.6 93.0 359.4 93.5 362.0C94.0 364.6 94.4 366.8 95.0 369.1C95.6 371.4 96.2 374.1 97.0 376.0C97.8 377.9 98.6 380.2 99.5 380.3C100.4 380.4 101.4 378.4 102.5 376.5C103.6 374.6 105.0 371.6 106.3 369.1C107.5 366.6 108.7 363.9 110.0 361.5C111.3 359.1 112.7 356.5 114.1 354.5C115.5 352.5 117.0 350.8 118.5 349.5C120.0 348.2 121.4 347.3 123.1 346.7C124.8 346.1 126.6 345.9 128.5 345.8C130.4 345.7 132.2 345.8 134.3 346.2C136.4 346.6 138.8 347.4 141.0 348.0C143.2 348.6 146.7 349.7 147.8 350.0M173.5 332.5C174.1 331.1 175.8 327.3 177.1 324.2C178.4 321.1 180.1 317.4 181.6 314.1C183.1 310.8 185.3 306.1 186.0 304.5M81.6 363.5C81.2 364.1 79.7 365.2 79.0 367.0C78.3 368.8 77.6 371.5 77.3 374.0C77.0 376.5 76.8 379.3 77.0 382.0C77.2 384.7 77.8 387.7 78.5 390.0C79.2 392.3 80.1 394.6 81.0 396.0C81.9 397.4 83.0 398.7 83.8 398.5C84.6 398.3 85.4 396.8 86.0 395.0C86.6 393.2 87.0 390.5 87.3 388.0C87.5 385.5 87.6 382.7 87.5 380.0C87.4 377.3 87.0 374.3 86.5 372.0C86.0 369.7 85.3 367.4 84.5 366.0C83.7 364.6 82.1 363.9 81.6 363.5M59.5 405.5C60.6 406.4 64.0 409.4 66.0 411.0C68.0 412.6 69.7 413.7 71.5 415.3C73.3 416.9 75.1 418.8 77.0 420.5C78.9 422.2 81.2 424.3 82.7 425.4C84.2 426.5 84.9 426.7 86.0 427.0C87.1 427.3 87.9 427.5 89.4 427.2C90.9 426.9 93.1 426.0 95.0 425.0C96.9 424.0 99.1 422.5 100.7 421.3C102.3 420.1 103.2 419.2 104.5 418.0C105.8 416.8 107.3 415.7 108.6 414.3C109.8 412.9 111.0 410.9 112.0 409.5C113.0 408.1 113.5 407.2 114.3 405.7C115.1 404.2 116.0 402.0 117.0 400.5C118.0 399.0 118.9 397.8 120.0 396.8C121.1 395.9 122.6 394.9 123.8 394.8C125.0 394.7 126.0 395.2 127.0 396.0C128.0 396.8 128.9 398.1 129.9 399.6C130.9 401.1 131.9 403.1 133.0 405.0C134.1 406.9 135.3 409.0 136.6 410.9C137.8 412.8 139.2 414.8 140.5 416.5C141.8 418.2 143.3 419.9 144.5 421.0C145.7 422.1 146.6 422.6 147.5 423.0C148.4 423.4 148.9 423.4 150.1 423.2C151.3 422.9 153.0 422.2 154.5 421.5C156.0 420.8 157.2 420.3 159.1 418.7C161.0 417.1 164.2 413.9 165.9 412.0C167.6 410.1 168.9 407.8 169.5 407.0M188.3 378.1C188.9 376.6 190.6 372.8 191.7 369.1C192.8 365.4 193.9 360.9 195.0 355.7C196.1 350.5 197.5 342.8 198.4 337.7C199.3 332.6 199.9 330.4 200.3 325.0C200.7 319.6 200.7 308.3 200.8 305.0M59.5 417.0C60.4 417.6 63.4 419.5 65.0 420.5C66.6 421.5 67.7 421.9 69.2 423.2C70.7 424.5 72.5 426.6 74.0 428.5C75.5 430.4 77.1 432.6 78.2 434.4C79.3 436.2 79.8 437.8 80.5 439.5C81.2 441.2 82.0 443.2 82.7 444.5C83.4 445.8 83.9 446.4 84.5 447.0C85.1 447.6 85.5 448.1 86.1 447.9C86.7 447.6 87.2 446.6 88.0 445.5C88.8 444.4 89.6 442.4 90.6 441.1C91.6 439.8 92.9 438.6 94.0 437.5C95.1 436.4 96.2 435.2 97.3 434.4C98.4 433.6 99.4 432.9 100.5 432.5C101.6 432.1 102.8 431.6 104.0 431.7C105.2 431.8 106.4 432.4 107.5 433.0C108.6 433.6 109.7 434.5 110.8 435.5C111.9 436.5 112.9 437.9 114.0 439.0C115.1 440.1 116.4 441.7 117.5 442.3C118.6 442.9 119.6 442.7 120.5 442.8C121.4 442.9 122.3 442.6 123.1 443.0C123.8 443.4 124.4 444.5 125.0 445.5C125.6 446.5 126.0 447.4 126.5 449.0C127.0 450.6 127.5 452.9 128.0 455.0C128.5 457.1 129.1 458.7 129.4 461.4C129.7 464.1 129.8 467.0 130.0 471.0C130.2 475.0 130.3 483.1 130.4 485.5M167.0 485.5C167.0 482.9 167.1 474.0 167.2 470.0C167.3 466.0 167.3 463.9 167.4 461.4C167.5 458.9 167.6 456.1 167.6 455.0M173.5 435.0C174.1 434.7 175.7 433.7 177.0 433.3C178.3 432.9 180.1 432.6 181.6 432.6C183.1 432.6 184.7 432.8 186.0 433.3C187.3 433.8 188.5 434.6 189.4 435.5C190.3 436.4 190.9 437.4 191.5 438.5C192.1 439.6 192.5 440.6 192.8 442.3C193.1 444.1 193.3 446.6 193.5 449.0C193.7 451.4 193.8 453.4 193.9 456.9C194.0 460.4 193.9 465.2 193.9 470.0C193.9 474.8 193.9 482.9 193.9 485.5M137.8 485.5C137.9 483.8 138.0 477.7 138.3 475.0C138.6 472.3 139.0 470.8 139.5 469.5C140.0 468.2 140.6 467.0 141.2 467.0C141.8 467.0 142.3 468.2 142.8 469.5C143.3 470.8 143.7 472.3 144.0 475.0C144.3 477.7 144.4 483.8 144.5 485.5M151.9 485.5C152.0 483.4 152.2 476.2 152.5 473.0C152.8 469.8 153.4 468.0 154.0 466.5C154.6 465.0 155.2 464.0 155.8 464.0C156.4 464.0 157.0 465.0 157.5 466.5C158.0 468.0 158.7 469.8 159.0 473.0C159.3 476.2 159.5 483.4 159.6 485.5M59.5 447.0C60.0 448.3 61.6 452.6 62.5 455.0C63.4 457.4 64.0 459.7 64.7 461.4C65.4 463.1 65.9 463.8 66.5 465.0C67.1 466.2 67.9 467.9 68.2 468.5M103.0 485.5C103.0 483.6 103.1 476.9 103.3 474.0C103.5 471.1 103.7 469.4 104.0 468.0C104.3 466.6 104.8 465.9 105.2 465.9C105.6 465.9 106.1 466.6 106.4 468.0C106.7 469.4 106.9 471.1 107.1 474.0C107.3 476.9 107.4 483.6 107.4 485.5M171.0 485.5C171.1 482.9 171.1 473.9 171.3 470.0C171.5 466.1 171.8 464.2 172.3 462.0C172.8 459.8 173.6 458.3 174.5 457.0C175.4 455.7 176.5 454.9 177.5 454.3C178.5 453.7 179.4 453.5 180.4 453.5C181.4 453.5 182.6 453.8 183.5 454.5C184.4 455.2 185.2 456.4 186.0 457.5C186.8 458.6 187.8 459.3 188.3 461.4C188.8 463.5 189.0 466.0 189.2 470.0C189.4 474.0 189.4 482.9 189.4 485.5M204.9 305.0C205.0 317.5 205.2 349.9 205.5 380.0C205.8 410.1 206.3 467.9 206.5 485.5M210.8 305.0C210.9 317.5 211.1 349.9 211.3 380.0C211.5 410.1 211.9 467.9 212.0 485.5" fill="none" stroke="#454749" stroke-width="1.55" stroke-dasharray="5.4 2.3" />
<path d="M220.6 305.0C220.6 317.5 220.6 349.9 220.6 380.0C220.6 410.1 220.6 467.9 220.6 485.5M225.5 305.0C225.4 317.5 225.1 349.9 224.8 380.0C224.5 410.1 223.9 467.9 223.7 485.5M230.8 305.0C230.5 317.5 229.7 349.9 229.0 380.0C228.3 410.1 227.1 467.9 226.7 485.5M249.4 305.0C250.0 306.5 251.6 310.8 253.0 314.0C254.4 317.2 256.5 321.4 258.0 324.0C259.5 326.6 260.6 328.1 262.0 329.5C263.4 330.9 264.8 332.2 266.6 332.6C268.4 333.0 270.6 332.5 273.0 332.0C275.4 331.5 278.4 330.8 280.9 329.7C283.4 328.6 285.6 326.9 288.0 325.5C290.4 324.1 292.8 322.3 295.1 321.1C297.4 319.9 299.9 319.2 302.0 318.5C304.1 317.8 306.2 317.1 308.0 317.0C309.8 316.9 311.8 317.8 312.5 318.0M328.5 343.5C328.9 344.5 330.1 347.6 331.0 349.5C331.9 351.4 332.8 354.7 333.7 354.9C334.6 355.1 335.6 352.3 336.5 350.5C337.4 348.7 338.2 346.9 339.4 344.0C340.6 341.1 342.1 336.8 343.5 333.0C344.9 329.2 346.8 324.3 348.0 321.1C349.2 317.9 349.9 316.8 351.0 314.0C352.1 311.2 354.2 306.1 354.8 304.5M367.5 305.0C368.2 306.3 370.2 309.7 372.0 313.0C373.8 316.3 377.0 323.0 378.0 325.0M260.3 485.5C260.2 483.9 259.9 478.8 259.5 476.0C259.1 473.2 258.4 469.8 258.2 468.5M259.0 442.7C259.3 442.7 260.1 442.2 260.7 442.6C261.2 443.0 261.6 443.5 262.3 444.9C263.0 446.3 264.1 448.5 264.8 451.0C265.5 453.5 266.2 456.5 266.6 459.7C267.1 462.9 267.3 465.7 267.5 470.0C267.7 474.3 267.9 482.9 268.0 485.5M273.3 485.5C273.7 483.8 274.9 478.4 275.5 475.0C276.1 471.6 276.2 469.4 276.6 465.4C277.0 461.4 277.9 455.3 278.0 451.1C278.1 446.9 277.7 443.3 277.5 440.0C277.3 436.7 277.0 434.4 276.6 431.1C276.2 427.8 275.6 423.3 275.3 420.0C275.0 416.7 274.7 414.1 274.6 411.1C274.5 408.1 274.7 404.9 274.8 402.0C274.9 399.1 274.9 396.7 275.3 394.0C275.8 391.3 276.6 388.9 277.5 386.0C278.4 383.1 279.7 379.7 281.0 376.5C282.3 373.3 283.9 369.6 285.5 367.0C287.1 364.4 289.1 362.9 290.9 361.1C292.6 359.3 294.1 357.4 296.0 356.0C297.9 354.6 300.6 353.3 302.3 352.6C304.0 351.9 304.8 351.9 306.0 351.8C307.2 351.7 308.3 351.7 309.4 352.0C310.5 352.3 312.0 353.2 312.5 353.5M325.3 378.5C325.7 379.9 326.8 384.1 327.5 387.0C328.2 389.9 329.0 392.4 329.4 396.0C329.8 399.6 329.0 405.8 329.6 408.3C330.2 410.8 331.6 410.8 333.0 411.0C334.4 411.2 336.8 410.7 338.0 409.7C339.2 408.7 339.8 406.7 340.5 405.0C341.2 403.3 341.6 401.9 342.3 399.7C343.0 397.5 343.8 394.6 344.5 392.0C345.2 389.4 345.9 387.7 346.6 384.0C347.3 380.3 347.8 375.2 348.5 370.0C349.2 364.8 350.0 356.8 350.9 352.6C351.8 348.4 352.8 346.9 354.0 345.0C355.2 343.1 356.8 340.8 358.0 341.0C359.2 341.2 360.3 343.6 361.5 346.0C362.7 348.4 364.0 352.2 365.0 355.4C366.0 358.6 366.8 361.7 367.5 365.0C368.2 368.3 368.9 371.9 369.4 375.4C369.9 378.9 370.2 382.6 370.5 386.0C370.8 389.4 370.7 393.2 371.0 396.0C371.3 398.8 371.1 401.0 372.3 402.6C373.5 404.2 377.1 405.3 378.0 405.8M276.4 485.5C277.1 481.2 279.9 467.8 280.9 459.7C281.9 451.6 281.9 443.5 282.3 436.9C282.7 430.3 282.8 425.3 283.0 420.0C283.2 414.7 283.2 408.8 283.3 405.0C283.4 401.2 283.6 398.3 283.6 397.0M289.4 378.3C289.9 377.3 291.2 374.2 292.5 372.5C293.8 370.8 295.1 369.0 297.0 367.8C298.9 366.6 301.9 365.4 303.7 365.4C305.5 365.3 306.6 366.3 308.0 367.5C309.4 368.7 310.8 370.7 312.0 372.5C313.2 374.3 314.2 375.9 315.1 378.3C316.0 380.7 316.8 384.1 317.5 387.0C318.2 389.9 318.7 393.0 319.4 396.0C320.1 399.0 320.8 402.0 321.5 405.0C322.2 408.0 322.4 411.9 323.7 414.0C324.9 416.1 327.1 416.6 329.0 417.5C330.9 418.4 332.7 418.6 335.1 419.1C337.5 419.6 340.6 420.2 343.5 420.5C346.4 420.8 349.6 421.4 352.3 421.1C355.1 420.8 357.6 419.4 360.0 418.5C362.4 417.6 363.6 417.0 366.6 415.4C369.6 413.8 376.1 409.7 378.0 408.6M355.0 362.6C354.4 363.3 352.4 365.1 351.5 367.0C350.6 368.9 349.9 371.7 349.6 374.0C349.3 376.3 349.3 378.8 349.6 381.0C349.9 383.2 350.7 385.6 351.5 387.0C352.3 388.4 353.4 389.7 354.5 389.7C355.6 389.7 357.0 388.4 358.0 387.0C359.0 385.6 359.8 383.2 360.3 381.0C360.8 378.8 361.0 376.3 360.9 374.0C360.8 371.7 360.5 368.9 359.5 367.0C358.5 365.1 355.8 363.3 355.0 362.6M345.6 403.6C346.2 403.6 348.8 402.8 349.4 403.6C350.0 404.4 350.0 407.8 349.4 408.6C348.8 409.4 346.2 409.4 345.6 408.6C345.0 407.8 345.6 404.4 345.6 403.6M278.0 485.5C278.9 482.1 281.6 471.6 283.7 465.4C285.8 459.2 289.3 453.2 290.9 448.3C292.5 443.4 292.9 438.1 293.3 436.0M294.2 401.0C294.5 400.1 295.0 397.1 296.0 395.5C297.0 393.9 298.5 392.5 300.0 391.5C301.5 390.5 303.5 389.8 305.0 389.7C306.5 389.6 308.0 390.2 309.0 391.0C310.0 391.8 310.9 392.6 311.0 394.5C311.1 396.4 310.1 399.5 309.4 402.6C308.6 405.7 307.4 409.7 306.5 413.0C305.6 416.3 304.1 420.1 304.3 422.6C304.6 425.2 306.4 427.7 308.0 428.3C309.6 428.9 311.9 427.2 314.0 426.5C316.1 425.8 318.6 424.6 320.9 424.0C323.2 423.4 325.6 423.1 328.0 422.8C330.4 422.6 332.5 422.0 335.1 422.5C337.7 423.0 340.6 424.8 343.5 426.0C346.4 427.2 349.9 429.2 352.3 429.7C354.7 430.2 356.1 429.5 358.0 429.0C359.9 428.5 361.7 428.1 363.7 426.9C365.7 425.7 367.6 424.1 370.0 422.0C372.4 419.9 376.7 415.8 378.0 414.6" fill="none" stroke="#454749" stroke-width="1.55"/>
<path d="M175.5 485.5C175.6 483.8 175.6 477.8 175.8 475.0C176.0 472.2 176.4 470.6 176.8 469.0C177.2 467.4 177.8 466.2 178.3 465.5C178.8 464.8 179.4 464.7 180.0 464.7C180.6 464.7 181.2 464.8 181.8 465.5C182.4 466.2 183.0 467.4 183.5 469.0C184.0 470.6 184.3 472.2 184.6 475.0C184.8 477.8 184.9 483.8 185.0 485.5M292.3 485.5C292.4 484.2 292.6 480.4 292.8 478.0C293.0 475.6 293.3 473.6 293.7 471.1C294.1 468.6 294.5 465.4 295.0 463.0C295.5 460.6 295.6 458.6 296.6 456.9C297.6 455.2 299.3 454.0 301.0 453.0C302.7 452.0 304.6 452.1 306.6 451.1C308.6 450.1 310.6 448.7 313.0 447.0C315.4 445.3 318.9 442.3 320.9 441.1C322.9 439.9 323.6 440.2 325.0 440.0C326.4 439.8 328.1 440.0 329.4 439.7C330.7 439.4 331.8 438.5 333.0 438.0C334.2 437.5 335.5 436.6 336.6 436.9C337.7 437.1 338.6 438.3 339.5 439.5C340.4 440.7 341.4 442.1 342.3 444.0C343.2 445.9 344.1 448.4 345.0 451.0C345.9 453.6 347.1 456.9 348.0 459.7C348.9 462.5 349.6 465.1 350.3 468.0C351.0 470.9 351.6 474.3 352.3 476.9C353.0 479.5 353.9 484.5 354.6 483.5C355.3 482.5 356.0 474.7 356.6 471.1C357.2 467.5 357.8 464.9 358.5 462.0C359.2 459.1 360.1 456.2 360.9 454.0C361.7 451.8 362.6 450.4 363.5 449.0C364.4 447.6 365.4 446.5 366.6 445.4C367.9 444.3 369.1 443.5 371.0 442.5C372.9 441.5 376.8 439.8 378.0 439.3M216.0 305.0C216.1 317.5 216.2 349.9 216.3 380.0C216.4 410.1 216.6 467.9 216.7 485.5" fill="none" stroke="#000" stroke-width="2.0" stroke-linejoin="round"/>
<text transform="translate(136.0 314.6) rotate(-7)" text-anchor="middle" font-size="10.0" textLength="26.5" lengthAdjust="spacingAndGlyphs" font-family="Liberation Sans, sans-serif" style="fill:#454749" dy="3.5">-0.045</text>
<text transform="translate(162.5 343.5) rotate(-34)" text-anchor="middle" font-size="10.0" textLength="26.5" lengthAdjust="spacingAndGlyphs" font-family="Liberation Sans, sans-serif" style="fill:#454749" dy="3.5">-0.030</text>
<text transform="translate(179.5 392.0) rotate(-52)" text-anchor="middle" font-size="10.0" textLength="26.5" lengthAdjust="spacingAndGlyphs" font-family="Liberation Sans, sans-serif" style="fill:#454749" dy="3.5">-0.015</text>
<text transform="translate(169.8 443.4) rotate(-63)" text-anchor="middle" font-size="10.0" textLength="26.5" lengthAdjust="spacingAndGlyphs" font-family="Liberation Sans, sans-serif" style="fill:#454749" dy="3.5">-0.010</text>
<text transform="translate(78.0 467.0) rotate(43)" text-anchor="middle" font-size="10.0" textLength="26.5" lengthAdjust="spacingAndGlyphs" font-family="Liberation Sans, sans-serif" style="fill:#454749" dy="3.5">-0.005</text>
<text transform="translate(321.4 330.0) rotate(52)" text-anchor="middle" font-size="10.0" textLength="22.5" lengthAdjust="spacingAndGlyphs" font-family="Liberation Sans, sans-serif" style="fill:#454749" dy="3.5">0.030</text>
<text transform="translate(319.7 365.7) rotate(61)" text-anchor="middle" font-size="10.0" textLength="22.5" lengthAdjust="spacingAndGlyphs" font-family="Liberation Sans, sans-serif" style="fill:#454749" dy="3.5">0.015</text>
<text transform="translate(285.2 387.5) rotate(-56)" text-anchor="middle" font-size="10.0" textLength="22.5" lengthAdjust="spacingAndGlyphs" font-family="Liberation Sans, sans-serif" style="fill:#454749" dy="3.5">0.010</text>
<text transform="translate(293.7 418.3) rotate(88)" text-anchor="middle" font-size="10.0" textLength="22.5" lengthAdjust="spacingAndGlyphs" font-family="Liberation Sans, sans-serif" style="fill:#454749" dy="3.5">0.005</text>
<text transform="translate(255.9 454.0) rotate(-90)" text-anchor="middle" font-size="10.0" textLength="22.5" lengthAdjust="spacingAndGlyphs" font-family="Liberation Sans, sans-serif" style="fill:#454749" dy="3.5">0.030</text>
<rect x="199.0" y="306.4" width="39.5" height="177.6" fill="#808080" fill-opacity="0.8"/>
</g>
<g clip-path="url(#c3)">
<rect x="59" y="595" width="320" height="190" fill="#313695"/>
<path fill="#35429b" d="M378 784h-319v-189h319v189z"/>
<path fill="#3d5ba7" d="M378 784h-319v-189h319v189zM89.3 604l1.1-4l-0.4-1h-2.5l-0.6 1l1.1 3.8l1 0.9l0.3-0.7zM345.1 611l1.7-11l-0.4-1l-1.4-0.3l-1 0.3l-0.5 2l0.5 8.7l1 2l0.1-0.7zM274 777l-1-1.2v1.7l1-0.5z"/>
<path fill="#4676b5" d="M378 784h-319v-189h25l1 0.7l4.4-0.7h288.6v189zM89.7 619l3.8-20l-0.8-1l-1.7-0.4l-6 0.3l-2.2 1.1l-0.3 1l4 11l2.5 8.8l0.7-0.8zM344 646l0.1-5l2.2-9l2.7-19l0.9-13l-0.6-2l-3.3-0.7l-4.1 0.7l-0.8 1l-0.3 2l0.2 13.2l1.6 8.8l-0.6 12l1 4.5l0.8 1.5l0.2 5zM90.1 699l0.9-5.5l0.4-6.5l-0.4-17l-1-6.6l-1.2 5.6l-0.4 18l0.6 11.8l1 0.7l0.1-0.5zM275.3 779l0.3-4l-1.6-10.4l-1 1.9l-1.4 11.5l0.4 1.2l1 0.4l2.3-0.6z"/>
<path fill="#5a8ec1" d="M378 784h-102.2l-1.8-0.7l-1.8 0.7h-213.2v-165.2l2-3.9l2.7-14.9l1.8-5h10.2l1.3 1.5l3.7 0.5l-1.7 0.7l-1.3 1.3l2.3 4l3.6 9l2 8l1.3 10l1.1 16l-1 29l0.8 24l0.5 6l0.7 2.9l1-1.7l1-5.7l1.2-12.5l0.2-19l-1-22l1.2-25l3.7-23l-0.3-1.5l-1-1l-2.7-0.5l0.7-0.7l0.9-0.3h284.1v189zM343 680l1.4-9l0.5-11l1.9-10l-0.2-9l2.4-11.7l2.9-29.3l-0.1-2l-0.8-0.9l-3-0.6l-7 0.4l-1.5 1.1l-0.3 1l0.3 16l1.5 9l-0.7 10l1.1 8l0.2 8l-0.7 5l0.9 5l-0.2 15l0.4 4.1l1 0.9zM276.6 780l0.5-1v-3l-0.9-12l-1.1-3l-1.1-0.3l-1 0.3l-1 2l-1.3 16l0.3 1l1 0.6l3 0.1l1.6-0.7z"/>
<path fill="#6da4cc" d="M378 784h-101.4l-0.8-2l2.2-1l0.4-1v-6l-1-13l-0.6-2l-0.8-0.9l-1-0.2l-3 0.9l-1 2.6l-1.2 17.6l0.5 2l1.8 1l-0.7 2h-212.4v-155.3l2-0.3l0.8-1.4l2.1-9l1.6-11l1.1-3l2.4-1.7l3-1l5 3.7l1.3 2l2.7 6.6l2.2 8.4l1.9 14l0.9 11l-0.4 28l1.2 24l1.2 12.3l1 2.2l2-7.6l1.5-11.9l1.2-25l-0.1-21l1.7-26l3.5-23l-0.2-4h277.3l-0.8 3l0.8 7l0.5 1l1.6 1.2v29.3l-0.6 1.5l0.6 5.3v140.7zM343.2 696l3-26l0.4-10l1.9-11v-8l2.4-13l2.9-29l-0.2-2l-0.6-0.6l-4-0.9l-9 0.3l-2 1.1l-0.4 1.1l0.7 18l1.1 8l-0.4 10l1.2 13l-0.5 8l0.8 5l-0.2 15l0.6 7l0.1 12l1 2.5l1.2-0.5z"/>
<path fill="#83b9d8" d="M378 784h-100.5l0.3-1l1.6-1l0.4-1l-0.3-15l-1.3-9l-1.2-1.6l-1-0.1l-4 0.7l-1 0.7l-0.8 2.3l-1.2 21l1.5 4h-211.5v-138.9l1-0.1l1.2-1l2.3-16l3-10l1.5-7.4l1.3-1.6l2.7-1.2l2 0.6l1.9 1.6l2.7 6l2.4 9l2 12l1 10l0.2 28l2.2 31l1.4 11l0.2 0.6l1 0.4l1-2.8l1.4-7.2l1.9-14l1.8-25l0.4-16l2.4-31l3.6-24l-0.3-2l-0.9-1h236.5l-0.8 3l1.8 26v10l1 13l-0.2 7l0.7 7l0.7 34l1 3.5l2 0.8l1-0.5l0.9-2.8l3.2-35l6-46l1.6-17l-0.6-3h19.8l-1.1 3l1.2 10.4l1 1.6l0.4-1l1.6-0.3v25.4l-0.3-13.1l-0.7-1.3l-1-0.5l-0.4 2.8l0.7 21l0.7 2.7l1-0.1v138.4zM274.8 747l0.4-2l-1.2-1.9l-1 0.7l-0.3 2.2l0.3 1.1l1 0.3l0.8-0.4z"/>
<path fill="#9bcce2" d="M378 784h-97.4l0.6-3v-7l-1-15l-1.2-5.6l-1.6-2.4l0.4-3l-1.4-6l-1.4-3l-1-1l-1 0.1l-1 1.2l-0.9 2.7l-0.8 6l0.5 5l-1.1 2l-0.6 3l-0.8 22l0.7 4h-210v-107.6l1-2.8l1-5.7l1.2-17.9l1.3-10l2.5-11.9l4-11.5l1-1.4l2-0.8l2 1.6l3 9l3 14.1l1.2 8.9l0.8 26.5l3.3 40.5l0.7 4.4l1 1.6l1-0.1l1-1.5l0.7-2.4l3-18l2.8-30l0.8-15l3.1-31l4-28h230.1l3 52l1.6 50l0.9 3.7l2 2.8l2-0.8l1-1.2l1.1-3.5l3.3-34l7.3-60l1.5-9h13.9l2.1 23l2.3 43l0.2 20l1.3 11.2v91.8z"/>
<path fill="#b2ddeb" d="M378 784h-95.9l0.2-16l-0.9-11l-6-26l-1.4-12.5l-1-1.2l-4.3 30.7l-0.8 15v21h-208.9v-88.3l1 1.9l2-3l1.2-3.6l-1.4-10l2.3-31l1.4-8l2.4-5l3.1-10.3l1-1.7l1 0.2l1 1.8l1.9 5l1.3 5l1.8 3.7l1.4 6.3l1.5 26l1.8 17l1.8 34l0.5 2.1l2 2.2l1-0.4l1.3-2.9l4.3-23l3.2-31l1.2-17l3-26.9l2-13.7l3.5-18.4h225.5l3.2 53l2 52l1.3 8l1.5 2.9l1 0.4l1.7-1.3l1.3-2.3l2.4-7.7l2.2-27l8.1-64l1.3-7.5l1-3l2-1.2l3-0.6l4 1.1l1 0.9l0.6 1.3l1.4 9l1.2 12l2 31l1.6 56l1.2 9.7v66.3z"/>
<path fill="#c7e7f1" d="M378 784h-94.8l0.4-14l-0.7-12l-5.3-29l-1.1-17l-2.5-11.1l-1 0.3l-1 2.9l-1.8 7.9l-2.4 27l-0.8 19l0.2 26h-75.9l-0.4-2l0.9-2l-0.5-3l-1.5-5l-0.8-1.2l-1-0.3l-1 0.6l-1 2.9l-0.8 6l0.9 3l-0.4 1h-126.7v-60.4l1 0.4l2-2.3l2.1-3.7l0.7-3l-0.5-17l1.1-6l-1.5-10v-5l1.7-24l2-8l3.4-5.3l2-1.7l4 4.8l2 5.7l1 8.5l0.9 16l2.1 17l0.1 35l0.5 2l2.7 5l0.7 1h1l2-2.4l1.6-3.6l4.1-21l2.2-15l2.5-35l3.3-27l2.4-14l4.7-20h220.8l3.4 53l2.2 55l1.8 8.9l1 2.1l1 1l1 0.2l2-1.4l2-3.4l2.9-9.4l1.8-27l2.4-16l3.9-34l2.2-15l1.6-6l1.2-2.4l3-1.3l2 0.7l1 0.6l1 1.6l1.5 6.8l1.5 11l2 25.8l1.1 24.2l0.7 38l0.7 10l0.5 2.1l1 1.6v62.3z"/>
<path fill="#def2f7" d="M378 784h-93l0.1-14l-0.6-14l-3.5-19.3l-1.6-15.7l-0.1-24l-0.5-7l-0.8-3.7l-2-2.1l-1 0.3l-2 1.7l-2 3.8l-3.8 22l-1.4 31l0.7 41h-71.8l-0.3-6l-1.7-6l-2.2-4l-1.5-1.1l-1-0.1l-2 1.8l-1.5 3.4l-1 7l0.1 5h-52.5l-0.6-10l-0.5-2.3l-1-1.6h-1l-1.3 2.9l-0.4 11h-42.6l-0.7-5.2l-1-1.6l-1 0.2l-0.7 1.6l-0.7 5h-20.6v-36.9l2-0.9l1.1-1.2l1.9-3.4l2.2-5.6l1.8-5.9l1-10.9l-0.2-14.2l-2.7-27l1.1-19l0.8-5.9l1-3.3l2-2.8l2-1.2l2 0.7l2 2.9l1.5 7.6l1.2 16l2.4 14v20l-2.4 28l2.3 6l-0.4 1l-1.6 1.1l-1 1.9l-0.4 4l0.4 4.4l2 3l2-1.6l1.1-2.8l0.8-5l-1-4l3.1-1.6l2-2.7l3.7-8.7l2-8l4.8-29l2.4-36l2-11l2.1-17.5l2.2-13.5l3.1-8l3.1-12h215.3l4.1 54l2 37l0.6 20l0.9 6l1.1 4l1.6 2.5l2 0.8l2-0.9l2.9-3.4l1.6-3l1.2-4l1.5-9l0.1-11l1.1-15l2.1-14l4.8-41l1.7-7.8l2-5.5l1.2-1.7l0.8-0.3l1 0.3l1 1.4l1 3.1l1.3 6.5l3.3 27l1.6 34l0.5 43l0.7 5l1.3 2l1.3 1v58zM82.1 774l0.9-2.3v-3.5l-1-2.9l-1-0.1l-1.1 2.8l-0.1 4l1.2 2.8l1.1-0.8z"/>
<path fill="#ebf7e4" d="M378 784h-88.9l-1.8-5l-0.5-18l0.9-7l-3.5-19l-0.3-19l4-17l4.1-4.6l0.9-2.4l1.8-21l3.3-21.8l0.7-10.2l-0.7-6.3l-6.2-23.7l-1.8-2.7l-2-0.7l-0.7 3.4l-4.3 5.2l-1 3l-1.1 8.8l-0.3 15l-0.9 11l-3 13l-4.7 9.6l-2.5 7.4l-2.1 10l-0.4 8.1l-2.8 8.9l-0.8 23l2.3 40l0.2 12h-68.1l-0.7-3v-6l-3.8-14l-1.3-2.3l-3-2l-2 0.5l-1.1 1.8l-2.8 13l-1 12h-49.3l-1-18l-1.8-2.9l-2-1.9h-1l-0.5 0.8l-1.2 4l-0.5 8l0.1 10h-11.1l-1.3-12l-0.5-1.7l-1-1.1l-1 1.5l-0.5 2.3l-1.5 11h-22.2l-0.4-3l0.1-14l0.8-10l1.7-6.5l1-0.8l2 0.9l1-0.6l0.2-6l2-6l2.2-11l4.5-33l1.2-23l1.3-13l1.6-6.7l2.5-4.3l0.8-13l0.9-4l2.3-6l-1.4-8l0.9-2l1-0.3l4 0.8l2-0.5l0.2-2l-1.2-9l1-3.8l2-0.5l3 0.8l2.9 1.5l1.1 1.4l1 0.1l1-1.1l0.3-1.4l-1.9-5h183.6l-0.1 1l2.1 1h13l1.2 1l0.8 4.1l4.5 45.9l2.6 38v19l0.9 12.1l0.9 4.9l0.8 1l5.3 2l4-1.6l9-0.2l1-0.3l0.7-0.9l-0.5-12l-2.4-8l-1.2-10l0.2-5l1.2-7l-0.5-8l5.1-41l2.4-13.2l1-2l1-0.6l1.4 2.8l1.4 7l3.2 10.7l0.7 4.3l1.3 28l0.5 23l-0.7 13l-4.3 7l-1 5l-3.3 8l1.6 2l9.2 5.9l4 5.9v46.2zM74 730.1l-1 0.5l-0.5-3.6l-0.3-12l-2.8-37l2.3-20l1-2l1.3-0.5l1 1l0.5 1.5l2.2 15l2.3 6.3l1.2 6.7l0.3 6l-1.1 16l-3.2 9l-1.4 8l-1.8 5.1zM74 784h-15v-24.5l1.3 0.5l0.7 2.1l1 0.2l3-5l4-2.8l3 0.1l2 1.2l2 3.8l0.6 2.4l0.3 5l-0.7 12l-1.6 2l-0.6 3z"/>
<path fill="#f8fccb" d="M265 784h-66l0.3-11l-3.6-21l-1.7-3l-4-3l-4 1.3l-1 0.7l-1.1 2l-2 20l-0.8 14h-47.2l0.4-18l-6.7-11l5.4-7.8l2-0.3l5 1.1l1-0.2l0.5-0.8v-16l2.4-8l1.2-13l-0.2-3l-1.7-7l2.2-9l1.7-19l-0.4-6l-2.7-17l-2.6-9l3.9-8l0.9-12l-1.2-11.3l-1-4.7l-0.8-3l-3-6h152l-1.2 1.9l-1 0.4l-9.7 0.7l-1.1 1l-0.7 2l-4.5 34.2l-4.7 26.8l-1.3 10l-2.5 10l-1.2 9l-0.2 7l-3.3 10l-0.2 23l4.1 37l0.6 13l-0.3 3zM378 784h-87.3l1.7-2l-2.2-5l-0.8-11v-5l1.9-9l-3.3-17l0.7-15l1.3-4.3l8-9.2l1.8-6.5l0.1-12l1-15l2.4-10l0.5-5v-13l1-15l-0.1-16l-1.1-11l0.2-1l1.3-1l5.9-1.1l11-0.9l2.2 1l1 3l1.3 7l4.5 36.9l3.1 37.1l0.4 9l-1.2 28l0.1 5l0.8 1l6.7 3l0.6 1l-1.6 4l0.1 1l3-2.2l2-0.4l2 2.1l7 9.8h2l3-0.6l11-4.6h1l1 0.7l6 9.9v33.3zM123 784h-8.1l-0.3-15l-2.6-7.8l-1-2.2l-1-0.8l-1.2 2.8l-1.9 10l-0.7 10l0.6 3h-19.8l0.7-17l1.5-9l0.8-1.5l1 0.1l4 4.5l1-1.1l0.2-1v-11l2.3-11l3.5-40.5l1.8-29.5l1-8l2-5l4.7-6l2.8-16l2.3-7l0.4-0.7l1-0.2l1 0.3l1.2 1.6l4.4 13l-0.1 2l-1.6 6l1 7l4.4 7l0.6 2l-2.5 13l-0.4 8l1 16l-0.9 17l0.5 8l1.8 12l-2.4 13.6l-0.1 4.4l-2.8 10l0.3 16l0.4 3h-0.8zM363 707.2l-1 0.3l-1-0.9l-2.8-5.6l-1.3-5l-0.7-6l1-9l-0.4-9l1.9-21l2.9-17l1.4-4.3l1 0.6l4 11.7l1.2 24l0.4 18l-0.7 14l-1.4 3l-4.5 6.2zM76 711.1l-1-1.1l-1.4-11l-0.4-19l0.8-4.9l1 0.2l0.9 1.7l2.1 0.9l1 1.7l1.6 9.4l-0.4 9l-1.1 7l-1.1 3.1l-2 3zM68 778.2l-3-0.1l-0.5-1.1l1.9-6l1.6-2.9l4-0.7l1 0.6l0.2 1l-0.7 7l-0.5 1l-1 0.5l-3 0.7zM73 784h-6.6l-0.2-2l0.8-0.9l4 0.5l1.9 1.4l0.1 1z"/>
<path fill="#fff8b5" d="M264 784h-14l0.1-4l-0.9-5l-1.2-2.9l-1-0.9l-1 0.3l-1 1.1l-1 2.1l-0.8 5.3v4h-42l-0.4-21l-1.8-17.7l-1-2.9l-2-2.7l-5-3.4l-3-0.7l-2 0.6l-2 2l-1.4 2.8l-1.3 5l-1.3 38h-32l0.4-12l-0.4-1.5l-2.3-3.5l4.9-9l-0.7-4l0.7-5l1.4-2.4l3.4-2.6l0.8-4l3.8-10.9l1.4-11.1l1-15l-0.9-24l-1.5-24.2l-7.6-59.8h121.5l-2.4 19l-6.9 39l-3.8 36l-3.4 16l-0.9 9l0.1 10l1.6 13l3.8 19.1l1.9 12.9l0.6 13l-0.1 2h-0.4zM353 784h-30.2l-0.8-0.7l-1.7-4.3l-0.3-13.9l-0.8-7.1l0.6-4l-3.6-3l-2.1-3l-2.1-0.9l-2 0.1l-2 1.7l-2.6 4.1l-4.1 8l-0.3 9l2 3.4l0.4 3.6l-0.4 2.4l-2 2.6l-1-0.2l-1.9-2.8l-0.1-6.1l-1-0.6l-3-0.3l-1-0.9l-1-3.5l-0.1-4.6l2.8-10l0.4-3l-3.1-13.7v-3.5l1-2.7l7-2.8l0.8-2.3l0.6-7l2.6-10.1l1.8-10.9l1.9-37l4.5-45l1-5l1.8-4.6l1.6-2.4l1.4-0.7l2 0.2l2 1.9l1.7 5.6l7.3 50.1l2.1 24.9l0.2 9l-1.6 18l-2 15l-0.8 19l-0.9 3.2l-3 3.8l0.1 1l6.3 3l1.3 1l0.3 1l-3 3.5l-0.5 2.5l-0.2 6l0.7 6.3l3 3.7l2-1.5l1.5-2.5l0.5-2.1l0.3-5.9l-0.3-5.4l-3-4.6l4-3.7l2-5.6l2-2.1l1-0.4l1 0.4l2 1.6l5.3 10.8l1.3 4l1.2 18v2h-0.8zM363 668.9l-2-2.3l-1-2.6l-0.1-2l1.1-8l2-2.3l2 2.5l0.6 1.8l0.5 6l-0.1 2l-1 2.6l-1.6 1.4l-0.4 0.9zM108 739l-3 0.9l-1-0.8l-1.2-3.1l-0.6-3v-18l1.7-33l2.1-17.9l1-3.6l2.2-3.5l3.8-3.5l2-1.3l1 0.2l1 1.3l1 2.3l1 10l1.4 33l-0.3 17l-1.1 8.1l-2 3.8l-2.9 2.1l-1.1 7.3l-5 1.7zM363 696.2l-1-0.2l-2-3l-0.8-5l0.8-10.3l2-3.3l1-0.4l2 2.3l1 1.9l0.5 5.8l-0.5 8l-1 2.5l-2 1.7zM78 693l-1-1.7l-0.1-1.3l0.1-1.6l1-1.4l1 3l-1 3zM92 780.2l-1 0.7l-1.8-2.9l-0.2-3l0.7-3l2.3-2.9l3 0.4l4.1-4.5l-0.1-6l1-2.5l1-0.9l1 0.5l1.3 2.9l0.1 3l-0.6 3l1 4l-0.2 5l-0.6 1.6l-2 2.3l-5-5.8l-1-0.5l-1 2.1l-1 4.8l-1 1.7zM120 776.1l-1 0.8l-1-1.2l-1.4-3.7l0.7-6l-0.7-3l0.1-2l1.3-2.7l1-0.3l1 0.9l0.9 2.1l-0.4 4l0.9 5v3l-1.4 3.1zM378 784h-10.8l-0.2-1l0.2-8l1.3-6l1.5-2l1-0.6l5-1.3l2 0.2v18.7zM138 782.1l-1-0.6l-1-2l-0.3-2.5l0.4-3l0.9-2.2l1-0.9l1 0.4l1 5.7l-0.2 2l-1.8 3.1z"/>
<path fill="#feeba1" d="M263 784h-10.1l-2.9-22.3l-1-3.8l-1-0.4l-5 7.4l-3.1 6.1l-0.4 2l0.2 7l-0.8 4h-35.9l-0.1-9l-0.6-5l0.5-6l-0.5-14l-0.8-8l-1.5-8.9l-1-2.5l-2-2l-5-8l-2-2l-2 0.7l-5 4.8l-5 4l-1 1.9l-0.8 18l2.4 7l0.5 4l-0.6 25h-13.7l-0.5-3l-0.5-15l0.3-6l-0.6-9l4.1-33l0.2-20l1.7-5l0.4-3l-3-33l-4.6-30l-2.1-26l-1.5-6h110.1l-6.7 33l-4.6 16l-4.1 39l-1.4 6.9l-2.8 10.1l-2.1 19l0.6 4l5.1 15l1.6 8l4.7 8l1.9 5.7l2.1 12.3l0.3 11v1h-0.4zM324 744.1l-1-0.3l-1-1l-4-6.6l-3-3.5l-2-1.7l-4-1.3l-0.8-0.7l-0.2-1l1.6-11l0.1-13l0.9-8l-0.1-8l1-29l5.3-43l0.9-3l1.3-1.1l1 1.1l0.5 2l8.3 46l2.2 21l-0.3 17l-1.4 13l-2.4 14l-0.4 15l-0.5 2.2l-1 0.8l-1 0.1zM106 729.2l-1-3l-1.2-9.2l0.1-18l1.1-15l0.9-4l3.2-7l1.5-6l1.4-2.1l1-0.1l1.1 5.2l0.4 19l1.4 11l-1.4 14l-0.5 1.9l-2 0.7l-1 1.5l-4 10.1l-1 1zM325 776.1h-1l-0.4-1.1l-0.4-10l0.3-2l0.5-0.8l1-0.2l1.2 1l0.4 3l-1.6 10.1zM346 775.4l-2.6-0.4l-0.7-2l0.7-6l0.6-2.7l1-1.4l2.3 8.1v3l-1.3 1.4zM101 771.3l-0.7-1.3l0.7-1l0.4 1l-0.4 1.3zM153 779.1l-1-0.7l-0.1-1.4l1.1-7.3l0.8 7.3l-0.8 2.1z"/>
<path fill="#fede8e" d="M236 784h-31.8l0.4-4v-5l-0.7-5l0.7-6l-0.2-15l-0.6-13l-1.4-13l-1-3l-5.5-11l-1.6-11l-1.1-4l-6.3-9l-8.8-28l-5-10l-3.1-17l-2.3-7l-1.7-22l-1.4-6h99.2l-2.4 7l-4.9 20l-7.5 19l-4.5 31l-0.9 10l-5.7 18l-0.1 4l1.4 12l0.3 11l5.4 14l0.7 3l-0.6 2l-5.2 8l-0.9 7l-3 7l-0.3 3l0.8 13h-0.4zM323 733.4l-7.1-9.4l-0.8-2l-0.3-4l0.1-14l-0.6-15l1.2-22l2.9-27l0.6-3.8l1-0.9l1 2.9l5.9 27.8l1.5 16l-0.3 16l-0.7 8l-0.9 7l-2.1 10l-0.4 8.5l-1 1.9zM107 719.7l-1-1l-0.6-3.7l-0.6-16l1.3-13l0.9-3.1l2-2.5l0.7 2.6v7l2.1 10l-3.1 16l-0.7 2.3l-1 1.4zM175 710.4l-1 0.5l-1-2.9l-0.1-9l1.1-2.5l2-2.1l4-0.5l1 0.6l0.3 1.5l-0.7 8l-5.6 6.4zM177 784h-11.1l0.2-13l0.6-7l1.3-11.2l2-8.2l2 5.4l0.9 6l3.1 3.9l0.8 2.1l0.2 22zM262 784h-8v-17l-1.2-10l0.2-4l2 1.5l3 4.2l3 7.6l1.3 8.7l0.1 9h-0.4z"/>
<path fill="#fec87a" d="M228 784h-18l-0.2-2l-0.8-0.6l-2-3.9l-0.6-6.5l0.5-8l1.1-3.3l3-2.7v-13l-4.3-13l-1.7-30.4l-3.2-21.6l-2.8-10l-11-27.7l-3-5.3l-5.7-7l-4.3-9.5l-2.7-8.5l-1.9-16h88.2l-7.6 17.7l-7.6 19.3l-4.4 9.7l-2 7.3l-2 10.4l-1.2 9.6l-1.3 23l0.1 40l-0.6 2.6l-4 9.4v12l1 0.3l0.1 0.7l1.9 1.3l1.3 2.7l0.1 15l-0.4 2.5l-1 2.1l-1.9 2.4l-0.1 0.8l-1 0.2zM322 708.9l-2-1.6l-1-2l-0.9-8.3l0.1-2l0.8-2.3l2.2-2.7l-2.2-3l-0.6-2l0.5-8l1.1-4.1l2-2l1 0.2l2 3.2l0.8 8.7l-0.8 4.8l-2 2.2l0.2 1l0.8 0.4l1 1.6l0.5 2l-0.3 8l-1.2 3.5l-2 2.4zM107 703.1l-1-1.6l-0.1-1.5l0.1-1.4l1-1.6l1 1.1l0.3 1.9l-0.3 1.9l-1 1.2zM175 784h-7.7l0.3-9l0.6-5l0.8-2.5l2-2.1l2 0.5l1 1.2l1 2.9l0.5 4l0.3 9l-0.1 1h-0.7zM261 784h-5.7l0.4-13l1-4l1.3-1.5l1 0.5l1 1.7l1 4.3l0.5 8l-0.2 4h-0.3z"/>
<path fill="#fdb366" d="M221 735l-4 0.2l-2-1l-4.8-5.2l-0.9-2l-0.6-14l1.1-13l-2.1-16l0.1-17l-0.5-5l-0.9-2l-8.4-12.8l-9-18.4l-4.1-5.8l-6.9-25v-3h65.6l6.6 3l-0.1 2l-3.1 7.3l-4 12.8l-10.3 18.9l-1.7 5l-2.4 23l-1 25l0.1 8l1.9 13l-0.1 13l-0.5 2.2l-1 1.3l-5 4.4l-2 1.1zM322 702.4l-1-0.8l-0.3-1.6l0.2-2l1.1-0.7l1 0.5l0.3 2.2l-0.3 1.4l-1 1zM219 767.7l-1 0.1l-1.2-1.8l0.3-2l0.9-1l1 0.1l0.9 1.9l-0.2 2l-0.7 0.7zM260 784h-3.6l-0.3-2l0.3-9l0.6-2.6l1-1.9l1 0.4l1.3 4.1l0.4 8l-0.3 3h-0.4zM174 784h-5.1l-0.3-3l0.5-7l0.7-3l1.2-1.3l1-0.1l1 0.7l0.9 2.7l0.6 8l-0.5 3zM220 784h-4.1l-0.5-4l0.4-3l1.2-2l1-0.3l2 0.5l0.9 1.8l0.3 4l-1.2 3z"/>
<path fill="#fa9b58" d="M224 724.2h-10l-2-1.6l-0.7-2.6l0.2-5l2.3-19l-0.9-10l0.3-11l0.8-4.4l3.3-9.6v-2l-3.5-10l-1.8-3.7l-12-17.3l-8.4-11l-6.3-18v-1l1.1-3h38.7l9.3 4l1.9 1l0.6 1l-3.7 7l-8.2 21.4l-3.5 10.6l2.5 8.3l0.4 3.7l-1.5 43l4 24l-0.9 3.9l-2 1.3zM259 784h-1.7l-0.6-3l0.3-6l1-3.5l1 0.4l0.4 1.1l0.6 5l-0.4 6h-0.6zM173 784h-3l0.3-1l-0.4-3l0.7-5l0.4-1.4l1-0.2l1.1 5.6l-0.1 5zM219 781.7l-1 0.2l-1-0.7l-0.3-1.2l0.3-2.2l1-1.1l1.2 0.3l0.8 1.8v1.5l-1 1.4zM219 784h-2l1-0.9l1 0.9z"/>
<path fill="#f67f4b" d="M203 603.1l-2 0.8l-2-1.5l-2.3-4.4l-0.8-3h9.1l1.5 4l-3.5 4.1zM259 781.7l-1 0.2l-0.5-0.9l0.5-5.7l1 0.8l0.4 3.9l-0.4 1.7z"/>
<path d="M59.5 682.0C59.8 679.2 61.1 670.4 61.5 665.0C61.9 659.6 61.7 654.3 62.1 649.5C62.5 644.7 62.9 640.8 63.7 636.4C64.5 632.0 66.0 626.8 67.0 623.4C68.0 620.0 69.1 617.7 70.0 616.0C70.9 614.3 71.6 613.5 72.4 613.3C73.2 613.1 74.3 613.9 75.0 615.0C75.7 616.1 76.2 618.3 76.8 620.1C77.4 621.9 78.0 623.8 78.5 626.0C79.0 628.2 79.5 630.7 80.0 633.2C80.5 635.7 80.9 638.3 81.3 641.0C81.7 643.7 82.0 644.7 82.2 649.5C82.4 654.3 82.2 663.2 82.5 670.0C82.8 676.8 83.6 684.7 84.1 690.0C84.5 695.3 84.8 697.9 85.2 702.0C85.6 706.1 86.1 710.5 86.6 714.5C87.1 718.5 87.8 725.8 88.4 726.0C89.0 726.2 89.5 720.3 90.3 716.0C91.1 711.7 92.4 705.6 93.1 700.0C93.8 694.4 94.2 687.2 94.7 682.4C95.2 677.6 96.0 672.9 96.2 671.0M98.7 643.5C98.9 640.7 99.5 632.2 100.1 626.7C100.7 621.2 101.4 615.7 102.1 610.3C102.8 604.9 104.1 597.1 104.5 594.5M59.5 748.0C59.9 747.6 61.3 746.7 62.1 745.5C62.9 744.3 63.7 742.5 64.5 740.6C65.3 738.7 66.3 736.2 67.0 734.0C67.7 731.8 68.2 731.4 68.6 727.6C69.0 723.8 69.4 715.8 69.4 711.2C69.4 706.6 68.9 703.5 68.5 700.0C68.1 696.5 67.2 693.3 66.8 690.0C66.3 686.7 66.0 681.7 65.8 680.0M70.5 647.0C71.1 646.6 73.2 644.7 74.3 644.9C75.4 645.1 76.3 646.6 77.0 648.0C77.7 649.4 78.0 650.7 78.4 653.0C78.8 655.3 79.2 658.7 79.5 662.0C79.8 665.3 79.7 669.3 80.0 672.6C80.3 675.9 80.9 679.1 81.3 682.0C81.7 684.9 82.3 686.0 82.5 690.0C82.7 694.0 82.5 700.8 82.2 706.3C81.9 711.8 81.4 717.2 80.9 722.7C80.4 728.2 79.5 734.5 79.2 739.0C78.9 743.5 79.1 746.0 79.1 750.0C79.1 754.0 79.0 757.1 79.2 762.7C79.4 768.3 79.9 780.0 80.0 783.5M84.1 783.5C84.0 780.0 83.1 768.6 83.3 762.7C83.5 756.8 84.0 752.1 85.0 748.0C86.0 743.9 87.7 741.6 89.0 738.2C90.3 734.8 91.9 731.6 93.1 727.6C94.3 723.6 95.1 719.1 96.0 714.5C96.9 709.9 97.8 704.1 98.5 700.0C99.2 695.9 99.6 694.5 100.0 690.0C100.4 685.5 100.5 678.4 100.8 672.7C101.1 667.0 101.6 659.9 102.0 656.0C102.4 652.1 102.5 653.3 103.0 649.5C103.5 645.7 104.3 637.8 105.0 633.2C105.7 628.6 106.7 623.7 107.0 621.8M109.8 783.5C109.9 782.8 110.1 780.3 110.3 779.0C110.5 777.7 110.8 775.7 111.0 775.7C111.2 775.7 111.5 777.7 111.7 779.0C111.9 780.3 112.1 782.8 112.2 783.5M125.8 783.5C125.9 781.6 126.0 775.2 126.5 772.0C127.0 768.8 127.8 764.3 128.5 764.3C129.2 764.3 130.0 768.8 130.5 772.0C131.0 775.2 131.3 781.6 131.5 783.5M182.8 783.5C182.9 782.4 183.0 779.2 183.3 777.0C183.6 774.8 184.0 772.2 184.8 770.5C185.6 768.8 186.9 767.0 188.0 766.9C189.1 766.8 190.5 768.5 191.5 770.0C192.5 771.5 193.4 773.8 194.0 776.0C194.6 778.2 194.8 782.2 195.0 783.5M266.7 783.5C266.6 779.8 266.1 769.2 266.0 761.5C265.9 753.8 265.8 745.2 266.0 737.0C266.2 728.8 266.5 719.5 267.2 712.5C267.9 705.5 269.1 699.7 270.1 695.0C271.1 690.3 272.1 686.8 273.0 684.5C273.9 682.2 275.0 680.8 275.8 681.0C276.6 681.2 277.6 685.2 278.0 686.0M279.2 723.0C279.4 725.3 279.9 731.8 280.7 737.0C281.5 742.2 283.1 748.8 283.8 754.1C284.5 759.4 284.7 763.9 284.8 768.8C284.9 773.7 284.4 781.0 284.3 783.5M267.9 783.5C268.2 778.2 268.7 759.9 269.6 751.7C270.5 743.5 272.1 735.7 273.3 734.5C274.5 733.3 275.8 739.8 277.0 744.3C278.2 748.8 280.0 755.0 280.7 761.5C281.4 768.0 281.3 779.8 281.4 783.5M330.2 594.5C330.5 598.5 331.2 610.4 331.8 618.5C332.4 626.6 333.0 634.8 333.5 643.0C334.0 651.2 334.2 659.7 334.6 667.5C335.0 675.3 335.3 683.9 335.6 690.0C335.9 696.1 335.7 700.0 336.2 704.3C336.7 708.6 337.4 713.2 338.4 715.8C339.4 718.4 340.9 720.3 342.4 719.8C343.9 719.2 345.9 715.6 347.3 712.5C348.7 709.4 350.0 704.8 350.6 701.0C351.2 697.2 350.8 694.2 351.0 690.0C351.2 685.8 351.2 679.9 351.6 675.6C352.1 671.3 353.4 665.9 353.7 664.0M357.1 632.5C357.5 629.4 358.6 618.4 359.6 613.6C360.6 608.8 361.9 605.8 362.9 603.8C363.8 601.8 364.4 600.8 365.3 601.3C366.2 601.8 367.5 602.9 368.6 607.1C369.7 611.3 370.9 618.0 371.8 626.7C372.8 635.4 373.7 648.8 374.3 659.3C374.9 669.8 375.1 679.8 375.4 690.0C375.7 700.2 375.5 714.7 375.9 720.7C376.3 726.7 377.6 725.1 378.0 726.0M334.3 594.5C334.6 598.5 335.4 610.4 335.9 618.5C336.4 626.6 336.8 634.8 337.2 643.0C337.6 651.2 338.1 659.7 338.4 667.5C338.7 675.3 339.0 684.1 339.2 690.0C339.4 695.9 339.0 699.6 339.4 702.7C339.8 705.8 340.8 708.7 341.8 708.4C342.8 708.1 344.7 704.4 345.5 701.0C346.3 697.6 346.2 693.6 346.8 688.0C347.4 682.4 348.1 675.0 349.0 667.5C349.9 660.0 351.3 650.1 352.2 643.0C353.1 635.9 354.1 628.0 354.5 625.0M372.0 594.5C372.2 596.6 372.9 601.8 373.3 607.0C373.7 612.2 374.1 617.2 374.6 626.0C375.1 634.8 375.8 647.7 376.2 660.0C376.6 672.3 376.6 690.7 376.9 700.0C377.2 709.3 377.8 713.3 378.0 716.0" fill="none" stroke="#454749" stroke-width="1.55" stroke-dasharray="5.4 2.3" />
<path d="M106.6 688.0C106.4 689.2 105.6 692.5 105.4 695.0C105.2 697.5 105.2 700.5 105.3 703.0C105.4 705.5 105.8 708.1 106.0 710.0C106.2 711.9 106.5 714.5 106.8 714.5C107.1 714.5 107.4 711.9 107.6 710.0C107.8 708.1 108.0 705.5 108.0 703.0C108.0 700.5 108.0 697.5 107.8 695.0C107.6 692.5 106.8 689.2 106.6 688.0M170.1 594.5C170.3 596.9 171.3 606.3 171.6 608.7M186.3 636.9C187.3 639.1 190.3 645.6 192.2 650.3C194.1 655.0 196.2 660.5 197.8 665.0C199.4 669.5 200.5 673.1 201.5 677.3C202.5 681.5 203.2 685.4 203.9 690.0C204.6 694.6 205.3 698.8 205.8 705.0C206.3 711.2 206.6 718.1 206.7 727.3C206.8 736.5 206.5 750.6 206.4 760.0C206.3 769.4 206.1 779.6 206.0 783.5M259.3 594.5C258.2 596.9 254.7 603.9 252.5 608.7C250.3 613.5 248.2 618.9 246.4 623.4C244.6 627.9 242.8 632.7 241.5 636.0C240.2 639.3 239.6 638.9 238.4 643.0C237.2 647.1 235.4 654.1 234.4 660.7C233.4 667.4 233.1 671.8 232.7 682.9C232.3 694.0 232.2 710.5 232.2 727.3C232.2 744.1 232.6 774.1 232.7 783.5M167.2 783.5C167.3 781.6 167.6 774.8 168.0 772.0C168.4 769.2 168.9 767.8 169.5 766.5C170.1 765.2 170.9 764.4 171.6 764.4C172.3 764.4 173.1 765.2 173.7 766.5C174.3 767.8 174.8 769.2 175.2 772.0C175.5 774.8 175.7 781.6 175.8 783.5M214.4 783.5C214.8 780.1 215.8 769.2 216.5 763.0C217.2 756.8 217.8 746.2 218.4 746.2C219.0 746.2 219.7 756.8 220.3 763.0C220.9 769.2 221.9 780.1 222.2 783.5M322.0 660.1C321.7 661.6 320.8 666.5 320.4 669.1C319.9 671.7 319.5 674.5 319.3 675.6M318.8 702.7C318.9 703.8 319.2 706.2 319.6 709.2C320.0 712.2 320.6 719.6 321.2 720.7C321.8 721.8 322.4 717.9 323.0 716.0C323.6 714.1 324.0 713.1 324.5 709.2C325.0 705.4 325.6 697.8 325.8 692.9C326.0 688.0 326.0 684.2 325.8 680.0C325.6 675.8 325.1 670.8 324.5 667.5C323.9 664.2 322.4 661.3 322.0 660.1M255.6 783.5C255.7 781.8 255.8 775.7 256.0 773.0C256.2 770.3 256.6 768.8 257.0 767.5C257.4 766.2 257.9 765.0 258.4 765.0C258.9 765.0 259.4 766.2 259.8 767.5C260.2 768.8 260.6 770.3 260.8 773.0C261.0 775.7 261.1 781.8 261.2 783.5M195.6 594.5C196.1 595.6 197.7 599.2 198.5 601.0C199.3 602.8 199.7 605.5 200.3 605.5C200.9 605.5 201.7 602.8 202.3 601.0C202.9 599.2 203.7 595.6 204.0 594.5" fill="none" stroke="#454749" stroke-width="1.55"/>
<path d="M78.2 679.0C78.0 679.8 77.1 682.2 76.8 684.0C76.5 685.8 76.5 688.0 76.5 690.0C76.5 692.0 76.6 694.1 76.9 696.0C77.2 697.9 77.8 701.5 78.3 701.5C78.8 701.5 79.3 697.9 79.6 696.0C79.9 694.1 80.0 692.0 80.0 690.0C80.0 688.0 79.9 685.8 79.6 684.0C79.3 682.2 78.4 679.8 78.2 679.0M103.4 700.0C103.5 696.8 103.7 686.7 104.0 680.8C104.3 674.9 104.8 668.3 105.3 664.5C105.8 660.7 106.2 659.4 107.0 658.0C107.8 656.6 109.2 657.1 110.2 656.3C111.2 655.5 111.9 654.4 112.7 653.0C113.5 651.6 114.3 648.3 115.1 648.2C115.9 648.1 117.0 649.5 117.6 652.2C118.2 654.9 118.3 659.7 118.7 664.5C119.1 669.3 119.4 674.9 119.7 680.8C120.0 686.7 120.3 694.4 120.4 700.0C120.5 705.6 120.5 709.9 120.2 714.5C119.9 719.1 119.1 724.8 118.4 727.6C117.7 730.5 116.7 731.5 116.0 731.6C115.3 731.7 114.8 729.9 114.3 728.4C113.8 726.9 113.2 723.2 112.7 722.7C112.2 722.2 111.6 723.2 111.1 725.1C110.5 727.0 110.2 731.5 109.4 734.1C108.6 736.7 107.3 739.8 106.2 740.6C105.1 741.4 103.6 740.6 102.9 739.0C102.2 737.4 102.2 734.9 102.1 730.8C102.0 726.7 102.2 719.6 102.4 714.5C102.6 709.4 103.2 702.4 103.4 700.0M88.2 783.5C88.3 782.8 88.5 780.5 88.6 779.0C88.8 777.5 88.9 776.0 89.1 774.5C89.2 773.0 89.4 771.5 89.6 770.0C89.8 768.5 89.9 767.0 90.2 765.5C90.6 764.0 91.2 761.0 91.5 761.0C91.8 761.0 92.1 764.0 92.3 765.5C92.5 767.0 92.6 768.5 92.7 770.0C92.8 771.5 92.9 773.0 93.0 774.5C93.1 776.0 93.2 777.5 93.3 779.0C93.4 780.5 93.6 782.8 93.6 783.5M97.5 783.5C97.6 782.3 97.8 778.8 97.9 776.4C98.1 774.0 98.2 771.7 98.4 769.3C98.5 766.9 98.7 764.6 98.9 762.2C99.1 759.8 99.2 757.5 99.5 755.1C99.9 752.7 100.4 748.0 100.8 748.0C101.2 748.0 101.9 752.7 102.2 755.1C102.6 757.5 102.7 759.8 102.9 762.2C103.2 764.6 103.3 766.9 103.5 769.3C103.7 771.7 103.9 774.0 104.0 776.4C104.2 778.8 104.4 782.3 104.5 783.5M116.0 783.5C116.1 782.5 116.2 779.4 116.3 777.4C116.5 775.3 116.6 773.3 116.7 771.3C116.8 769.2 117.0 767.2 117.1 765.1C117.3 763.1 117.4 761.1 117.7 759.0C117.9 757.0 118.3 752.9 118.7 752.9C119.1 752.9 119.8 757.0 120.1 759.0C120.5 761.1 120.7 763.1 120.9 765.1C121.1 767.2 121.3 769.2 121.5 771.3C121.7 773.3 121.9 775.3 122.0 777.4C122.2 779.4 122.4 782.5 122.5 783.5M134.9 783.5C134.9 782.9 135.1 781.2 135.2 780.0C135.3 778.8 135.4 777.7 135.5 776.5C135.6 775.3 135.7 774.2 135.9 773.0C136.0 771.8 136.1 770.7 136.3 769.5C136.6 768.3 137.1 766.0 137.5 766.0C137.9 766.0 138.4 768.3 138.7 769.5C139.0 770.7 139.1 771.8 139.2 773.0C139.4 774.2 139.5 775.3 139.6 776.5C139.7 777.7 139.8 778.8 139.9 780.0C140.0 781.2 140.2 782.9 140.2 783.5M148.1 783.5C148.2 782.0 148.4 777.7 148.6 774.8C148.8 771.9 149.0 769.0 149.2 766.1C149.4 763.2 149.6 760.3 149.9 757.4C150.2 754.5 150.3 751.6 150.8 748.7C151.3 745.8 152.3 740.0 153.0 740.0C153.7 740.0 154.4 745.8 154.8 748.7C155.2 751.6 155.3 754.5 155.5 757.4C155.7 760.3 155.9 763.2 156.1 766.1C156.3 769.0 156.4 771.9 156.6 774.8C156.7 777.7 156.9 782.0 157.0 783.5M298.5 783.5C298.5 782.8 298.7 780.7 298.8 779.3C298.9 778.0 299.0 776.6 299.1 775.2C299.2 773.8 299.3 772.4 299.4 771.0C299.6 769.6 299.6 768.2 299.9 766.9C300.1 765.5 300.6 762.7 301.0 762.7C301.4 762.7 301.8 765.5 302.1 766.9C302.3 768.2 302.4 769.6 302.5 771.0C302.6 772.4 302.8 773.8 302.9 775.2C303.0 776.6 303.1 778.0 303.1 779.3C303.2 780.7 303.4 782.8 303.4 783.5M152.5 594.5C152.9 597.7 154.0 606.4 155.0 613.6C156.0 620.9 157.6 629.8 158.6 638.0C159.6 646.2 160.4 653.9 161.0 662.6C161.6 671.3 162.0 683.3 162.3 690.0C162.6 696.7 163.1 697.7 163.0 702.7C162.9 707.7 162.3 714.1 161.8 719.8C161.3 725.5 160.2 732.1 159.8 737.0C159.4 741.9 159.2 745.1 159.3 749.2C159.4 753.3 160.1 757.4 160.6 761.5C161.1 765.6 161.9 770.0 162.3 773.7C162.7 777.4 162.9 781.9 163.0 783.5M180.7 783.5C180.7 779.8 180.5 768.0 180.7 761.5C180.9 755.0 181.2 748.4 181.9 744.3C182.6 740.2 183.6 738.4 184.8 737.0C186.0 735.6 187.4 735.4 189.2 735.8C191.0 736.2 193.8 738.2 195.4 739.4C197.0 740.6 198.1 739.4 199.0 743.1C199.9 746.8 200.6 754.8 201.0 761.5C201.4 768.2 201.4 779.8 201.5 783.5M242.2 783.5C242.4 782.1 242.8 777.2 243.5 775.0C244.2 772.8 245.5 770.5 246.5 770.3C247.5 770.0 248.7 771.3 249.5 773.5C250.3 775.7 251.0 781.8 251.3 783.5M274.0 594.5C273.6 597.7 272.5 607.6 271.6 613.6C270.7 619.6 269.5 624.6 268.4 630.7C267.3 636.8 266.1 643.8 265.2 650.3C264.3 656.8 263.5 663.4 262.8 670.0C262.1 676.6 261.9 684.5 261.1 690.0C260.3 695.5 258.6 697.7 257.9 702.7C257.2 707.7 256.8 714.1 256.9 719.8C257.0 725.5 257.8 731.3 258.6 737.0C259.4 742.7 260.9 748.8 261.8 754.1C262.7 759.4 263.6 763.9 264.2 768.8C264.8 773.7 265.0 781.0 265.2 783.5M321.2 783.5C321.1 780.6 321.2 772.0 320.9 766.4C320.6 760.8 320.4 753.8 319.6 750.0C318.8 746.2 317.2 744.3 316.3 743.5C315.4 742.7 315.0 743.9 313.9 745.1C312.8 746.3 311.0 751.7 309.8 750.9C308.6 750.1 307.9 742.5 306.5 740.2C305.1 737.9 302.1 741.1 301.3 737.0C300.6 732.9 301.4 721.2 302.0 715.8C302.6 710.3 304.1 708.6 304.9 704.3C305.6 700.0 306.1 696.1 306.5 690.0C306.9 683.9 306.9 674.8 307.3 667.5C307.7 660.2 308.3 653.6 309.0 646.2C309.7 638.9 310.6 629.6 311.4 623.4C312.2 617.1 312.7 612.5 313.9 608.7C315.1 605.0 317.3 601.5 318.8 600.9C320.3 600.3 321.8 602.5 322.9 605.4C324.0 608.3 324.4 612.8 325.3 618.5C326.2 624.2 327.5 632.4 328.6 639.7C329.7 647.1 330.9 654.2 331.8 662.6C332.8 671.0 334.0 684.1 334.3 690.0C334.6 695.9 333.9 694.0 333.5 697.8C333.1 701.5 332.5 707.3 331.8 712.5C331.1 717.7 329.9 722.0 329.4 728.8C328.9 735.6 328.6 744.2 328.6 753.3C328.6 762.4 329.3 778.5 329.4 783.5M362.9 639.7C362.5 641.6 361.0 646.5 360.4 651.1C359.8 655.7 359.4 661.0 359.1 667.5C358.8 674.0 358.7 685.1 358.8 690.0C358.9 694.9 359.5 695.0 360.0 697.0C360.5 699.0 360.9 701.9 361.7 701.9C362.4 701.9 363.7 699.0 364.5 697.0C365.3 695.0 366.2 694.9 366.6 690.0C367.0 685.1 366.8 674.5 366.6 667.5C366.4 660.5 365.9 652.5 365.3 647.9C364.7 643.3 363.3 641.1 362.9 639.7M336.7 783.5C336.9 779.8 337.3 767.4 337.9 761.5C338.4 755.6 339.2 751.3 340.0 748.4C340.8 745.5 341.9 744.3 342.8 744.3C343.8 744.3 344.7 746.3 345.7 748.4C346.7 750.5 347.9 754.1 349.0 756.6C350.1 759.1 351.4 758.6 352.2 763.1C353.0 767.6 353.4 780.1 353.6 783.5M366.9 783.5C367.0 781.7 367.4 775.6 367.8 772.9C368.2 770.2 368.6 768.3 369.4 767.2C370.2 766.1 371.3 766.9 372.7 766.4C374.1 765.9 377.1 764.8 378.0 764.5" fill="none" stroke="#000" stroke-width="2.0" stroke-linejoin="round"/>
<text transform="translate(67.0 661.0) rotate(-90)" text-anchor="middle" font-size="10.0" textLength="26.5" lengthAdjust="spacingAndGlyphs" font-family="Liberation Sans, sans-serif" style="fill:#454749" dy="3.5">-0.025</text>
<text transform="translate(97.4 656.0) rotate(-90)" text-anchor="middle" font-size="10.0" textLength="26.5" lengthAdjust="spacingAndGlyphs" font-family="Liberation Sans, sans-serif" style="fill:#454749" dy="3.5">-0.05</text>
<text transform="translate(112.3 607.5) rotate(-78)" text-anchor="middle" font-size="10.0" textLength="26.5" lengthAdjust="spacingAndGlyphs" font-family="Liberation Sans, sans-serif" style="fill:#454749" dy="3.5">-0.025</text>
<text transform="translate(177.3 624.6) rotate(68)" text-anchor="middle" font-size="10.0" textLength="22.5" lengthAdjust="spacingAndGlyphs" font-family="Liberation Sans, sans-serif" style="fill:#454749" dy="3.5">0.025</text>
<text transform="translate(318.2 690.0) rotate(-90)" text-anchor="middle" font-size="10.0" textLength="22.5" lengthAdjust="spacingAndGlyphs" font-family="Liberation Sans, sans-serif" style="fill:#454749" dy="3.5">0.025</text>
<text transform="translate(279.2 705.5) rotate(-90)" text-anchor="middle" font-size="10.0" textLength="26.5" lengthAdjust="spacingAndGlyphs" font-family="Liberation Sans, sans-serif" style="fill:#454749" dy="3.5">-0.025</text>
<text transform="translate(356.4 608.0) rotate(-82)" text-anchor="middle" font-size="10.0" textLength="26.5" lengthAdjust="spacingAndGlyphs" font-family="Liberation Sans, sans-serif" style="fill:#454749" dy="3.5">-0.05</text>
<text transform="translate(355.6 648.0) rotate(-84)" text-anchor="middle" font-size="10.0" textLength="26.5" lengthAdjust="spacingAndGlyphs" font-family="Liberation Sans, sans-serif" style="fill:#454749" dy="3.5">-0.025</text>
<rect x="199.0" y="596.4" width="39.5" height="185.7" fill="#808080" fill-opacity="0.8"/>
</g>
<rect x="60.6" y="15.4" width="331.1" height="179.0" fill="none" stroke="#000" stroke-width="0.9"/>
<text x="52.2" y="34.8" text-anchor="end" font-size="11.5" font-family="Liberation Sans, sans-serif">0.1</text>
<text x="52.2" y="84.5" text-anchor="end" font-size="11.5" font-family="Liberation Sans, sans-serif">1</text>
<text x="52.2" y="134.3" text-anchor="end" font-size="11.5" font-family="Liberation Sans, sans-serif">10</text>
<text x="52.2" y="184.0" text-anchor="end" font-size="11.5" font-family="Liberation Sans, sans-serif">100</text>
<path d="M50.1 208.5h7.9" stroke="#000" stroke-width="0.85" fill="none"/><text x="59.1" y="211.6" font-size="13.0" font-family="Liberation Serif, serif">80</text>
<path d="M91.5 208.5h7.9" stroke="#000" stroke-width="0.85" fill="none"/><text x="100.5" y="211.6" font-size="13.0" font-family="Liberation Serif, serif">60</text>
<path d="M132.9 208.5h7.9" stroke="#000" stroke-width="0.85" fill="none"/><text x="141.9" y="211.6" font-size="13.0" font-family="Liberation Serif, serif">40</text>
<path d="M174.3 208.5h7.9" stroke="#000" stroke-width="0.85" fill="none"/><text x="183.3" y="211.6" font-size="13.0" font-family="Liberation Serif, serif">20</text>
<text x="222.9" y="211.6" font-size="13.0" font-family="Liberation Serif, serif">0</text>
<text x="261.0" y="211.6" font-size="13.0" font-family="Liberation Serif, serif">20</text>
<text x="302.4" y="211.6" font-size="13.0" font-family="Liberation Serif, serif">40</text>
<text x="343.8" y="211.6" font-size="13.0" font-family="Liberation Serif, serif">60</text>
<text x="385.2" y="211.6" font-size="13.0" font-family="Liberation Serif, serif">80</text>
<path d="M60.6 30.3h-4M60.6 80.0h-4M60.6 129.8h-4M60.6 179.5h-4M60.6 19.3h-2.2M60.6 22.6h-2.2M60.6 25.5h-2.2M60.6 28.0h-2.2M60.6 45.3h-2.2M60.6 54.0h-2.2M60.6 60.3h-2.2M60.6 65.1h-2.2M60.6 69.0h-2.2M60.6 72.3h-2.2M60.6 75.2h-2.2M60.6 77.8h-2.2M60.6 95.0h-2.2M60.6 103.8h-2.2M60.6 110.0h-2.2M60.6 114.8h-2.2M60.6 118.7h-2.2M60.6 122.1h-2.2M60.6 124.9h-2.2M60.6 127.5h-2.2M60.6 144.7h-2.2M60.6 153.5h-2.2M60.6 159.7h-2.2M60.6 164.5h-2.2M60.6 168.5h-2.2M60.6 171.8h-2.2M60.6 174.7h-2.2M60.6 177.2h-2.2M60.6 194.4v4M102.0 194.4v4M143.4 194.4v4M184.8 194.4v4M226.1 194.4v4M267.5 194.4v4M308.9 194.4v4M350.3 194.4v4M391.7 194.4v4" stroke="#000" stroke-width="0.8" fill="none"/>
<text x="226.2" y="230.4" text-anchor="middle" font-size="15.3" textLength="52.8" lengthAdjust="spacingAndGlyphs" font-family="Liberation Sans, sans-serif">Latitude</text>
<text transform="translate(24.4 104.9) rotate(-90)" text-anchor="middle" font-size="15.3" textLength="101" lengthAdjust="spacingAndGlyphs" font-family="Liberation Sans, sans-serif">Pressure (mbar)</text>
<text x="245.5" y="266.0" text-anchor="middle" font-size="12.3" letter-spacing="0.6" font-family="Liberation Serif, serif">(a)</text>
<rect x="60.6" y="306.4" width="316.3" height="177.6" fill="none" stroke="#000" stroke-width="0.9"/>
<text x="52.2" y="325.7" text-anchor="end" font-size="11.5" font-family="Liberation Sans, sans-serif">0.1</text>
<text x="52.2" y="375.0" text-anchor="end" font-size="11.5" font-family="Liberation Sans, sans-serif">1</text>
<text x="52.2" y="424.4" text-anchor="end" font-size="11.5" font-family="Liberation Sans, sans-serif">10</text>
<text x="52.2" y="473.7" text-anchor="end" font-size="11.5" font-family="Liberation Sans, sans-serif">100</text>
<path d="M60.0 497.5h7.9" stroke="#000" stroke-width="0.85" fill="none"/><text x="69.0" y="501.2" font-size="13.0" font-family="Liberation Serif, serif">75</text>
<path d="M109.4 497.5h7.9" stroke="#000" stroke-width="0.85" fill="none"/><text x="118.4" y="501.2" font-size="13.0" font-family="Liberation Serif, serif">50</text>
<path d="M158.8 497.5h7.9" stroke="#000" stroke-width="0.85" fill="none"/><text x="167.8" y="501.2" font-size="13.0" font-family="Liberation Serif, serif">25</text>
<text x="215.5" y="501.2" font-size="13.0" font-family="Liberation Serif, serif">0</text>
<text x="261.7" y="501.2" font-size="13.0" font-family="Liberation Serif, serif">25</text>
<text x="311.1" y="501.2" font-size="13.0" font-family="Liberation Serif, serif">50</text>
<text x="360.5" y="501.2" font-size="13.0" font-family="Liberation Serif, serif">75</text>
<path d="M60.6 321.2h-4M60.6 370.5h-4M60.6 419.9h-4M60.6 469.2h-4M60.6 310.3h-2.2M60.6 313.6h-2.2M60.6 316.4h-2.2M60.6 318.9h-2.2M60.6 336.1h-2.2M60.6 344.7h-2.2M60.6 350.9h-2.2M60.6 355.7h-2.2M60.6 359.6h-2.2M60.6 362.9h-2.2M60.6 365.8h-2.2M60.6 368.3h-2.2M60.6 385.4h-2.2M60.6 394.1h-2.2M60.6 400.2h-2.2M60.6 405.0h-2.2M60.6 408.9h-2.2M60.6 412.2h-2.2M60.6 415.1h-2.2M60.6 417.6h-2.2M60.6 434.7h-2.2M60.6 443.4h-2.2M60.6 449.6h-2.2M60.6 454.3h-2.2M60.6 458.3h-2.2M60.6 461.6h-2.2M60.6 464.4h-2.2M60.6 466.9h-2.2M70.5 484.0v4M119.9 484.0v4M169.3 484.0v4M218.7 484.0v4M268.2 484.0v4M317.6 484.0v4M367.0 484.0v4" stroke="#000" stroke-width="0.8" fill="none"/>
<text x="218.8" y="520.0" text-anchor="middle" font-size="15.3" textLength="52.8" lengthAdjust="spacingAndGlyphs" font-family="Liberation Sans, sans-serif">Latitude</text>
<text transform="translate(24.4 395.2) rotate(-90)" text-anchor="middle" font-size="15.3" textLength="101" lengthAdjust="spacingAndGlyphs" font-family="Liberation Sans, sans-serif">Pressure (mbar)</text>
<text x="245.5" y="555.6" text-anchor="middle" font-size="12.3" letter-spacing="0.6" font-family="Liberation Serif, serif">(b)</text>
<rect x="60.6" y="596.4" width="316.3" height="185.7" fill="none" stroke="#000" stroke-width="0.9"/>
<text x="52.2" y="616.4" text-anchor="end" font-size="11.5" font-family="Liberation Sans, sans-serif">0.1</text>
<text x="52.2" y="668.0" text-anchor="end" font-size="11.5" font-family="Liberation Sans, sans-serif">1</text>
<text x="52.2" y="719.5" text-anchor="end" font-size="11.5" font-family="Liberation Sans, sans-serif">10</text>
<text x="52.2" y="771.1" text-anchor="end" font-size="11.5" font-family="Liberation Sans, sans-serif">100</text>
<path d="M60.0 795.5h7.9" stroke="#000" stroke-width="0.85" fill="none"/><text x="69.0" y="799.3" font-size="13.0" font-family="Liberation Serif, serif">75</text>
<path d="M109.4 795.5h7.9" stroke="#000" stroke-width="0.85" fill="none"/><text x="118.4" y="799.3" font-size="13.0" font-family="Liberation Serif, serif">50</text>
<path d="M158.8 795.5h7.9" stroke="#000" stroke-width="0.85" fill="none"/><text x="167.8" y="799.3" font-size="13.0" font-family="Liberation Serif, serif">25</text>
<text x="215.5" y="799.3" font-size="13.0" font-family="Liberation Serif, serif">0</text>
<text x="261.7" y="799.3" font-size="13.0" font-family="Liberation Serif, serif">25</text>
<text x="311.1" y="799.3" font-size="13.0" font-family="Liberation Serif, serif">50</text>
<text x="360.5" y="799.3" font-size="13.0" font-family="Liberation Serif, serif">75</text>
<path d="M60.6 611.9h-4M60.6 663.5h-4M60.6 715.0h-4M60.6 766.6h-4M60.6 600.4h-2.2M60.6 603.9h-2.2M60.6 606.9h-2.2M60.6 609.5h-2.2M60.6 627.4h-2.2M60.6 636.5h-2.2M60.6 642.9h-2.2M60.6 647.9h-2.2M60.6 652.0h-2.2M60.6 655.5h-2.2M60.6 658.5h-2.2M60.6 661.1h-2.2M60.6 679.0h-2.2M60.6 688.1h-2.2M60.6 694.5h-2.2M60.6 699.5h-2.2M60.6 703.6h-2.2M60.6 707.1h-2.2M60.6 710.0h-2.2M60.6 712.7h-2.2M60.6 730.6h-2.2M60.6 739.7h-2.2M60.6 746.1h-2.2M60.6 751.1h-2.2M60.6 755.2h-2.2M60.6 758.6h-2.2M60.6 761.6h-2.2M60.6 764.3h-2.2M70.5 782.1v4M119.9 782.1v4M169.3 782.1v4M218.7 782.1v4M268.2 782.1v4M317.6 782.1v4M367.0 782.1v4" stroke="#000" stroke-width="0.8" fill="none"/>
<text x="218.8" y="818.1" text-anchor="middle" font-size="15.3" textLength="52.8" lengthAdjust="spacingAndGlyphs" font-family="Liberation Sans, sans-serif">Latitude</text>
<text transform="translate(24.4 689.2) rotate(-90)" text-anchor="middle" font-size="15.3" textLength="101" lengthAdjust="spacingAndGlyphs" font-family="Liberation Sans, sans-serif">Pressure (mbar)</text>
<text x="245.5" y="853.7" text-anchor="middle" font-size="12.3" letter-spacing="0.6" font-family="Liberation Serif, serif">(c)</text>
<rect x="412.2" y="178.15" width="8.2" height="8.45" fill="#36459c"/>
<rect x="412.2" y="170.00" width="8.2" height="8.45" fill="#4065ac"/>
<rect x="412.2" y="161.85" width="8.2" height="8.45" fill="#5183bb"/>
<rect x="412.2" y="153.70" width="8.2" height="8.45" fill="#679ec9"/>
<rect x="412.2" y="145.55" width="8.2" height="8.45" fill="#81b7d7"/>
<rect x="412.2" y="137.40" width="8.2" height="8.45" fill="#9dcee3"/>
<rect x="412.2" y="129.25" width="8.2" height="8.45" fill="#b9e0ed"/>
<rect x="412.2" y="121.10" width="8.2" height="8.45" fill="#d4edf4"/>
<rect x="412.2" y="112.95" width="8.2" height="8.45" fill="#e7f6eb"/>
<rect x="412.2" y="104.80" width="8.2" height="8.45" fill="#f7fcce"/>
<rect x="412.2" y="96.65" width="8.2" height="8.45" fill="#fff7b3"/>
<rect x="412.2" y="88.50" width="8.2" height="8.45" fill="#fee79b"/>
<rect x="412.2" y="80.35" width="8.2" height="8.45" fill="#fed283"/>
<rect x="412.2" y="72.20" width="8.2" height="8.45" fill="#fdbb6d"/>
<rect x="412.2" y="64.05" width="8.2" height="8.45" fill="#fb9d59"/>
<rect x="412.2" y="55.90" width="8.2" height="8.45" fill="#f67c4a"/>
<rect x="412.2" y="47.75" width="8.2" height="8.45" fill="#ec5c3b"/>
<rect x="412.2" y="39.60" width="8.2" height="8.45" fill="#dd3d2d"/>
<rect x="412.2" y="31.45" width="8.2" height="8.45" fill="#ca2427"/>
<rect x="412.2" y="23.30" width="8.2" height="8.45" fill="#b10b26"/>
<path d="M412.2 186.3L416.3 194.5L420.4 186.3z" fill="#313695"/>
<path d="M412.2 23.3L416.3 15.1L420.4 23.3z" fill="#a50026"/>
<path d="M412.2 186.3L416.3 194.5L420.4 186.3L420.4 23.3L416.3 15.1L412.2 23.3z" fill="none" stroke="#000" stroke-width="0.8" stroke-linejoin="miter"/>
<path d="M429.2 178.5h7.9" stroke="#000" stroke-width="0.85" fill="none"/><text x="438.2" y="182.6" font-size="13.0" font-family="Liberation Serif, serif">36</text>
<path d="M429.2 154.5h7.9" stroke="#000" stroke-width="0.85" fill="none"/><text x="438.2" y="158.1" font-size="13.0" font-family="Liberation Serif, serif">24</text>
<path d="M429.2 130.5h7.9" stroke="#000" stroke-width="0.85" fill="none"/><text x="438.2" y="133.7" font-size="13.0" font-family="Liberation Serif, serif">12</text>
<text x="428.2" y="109.2" font-size="13.0" font-family="Liberation Serif, serif">0</text>
<text x="428.2" y="84.8" font-size="13.0" font-family="Liberation Serif, serif">12</text>
<text x="428.2" y="60.3" font-size="13.0" font-family="Liberation Serif, serif">24</text>
<text x="428.2" y="35.9" font-size="13.0" font-family="Liberation Serif, serif">36</text>
<path d="M420.4 178.2h3.6M420.4 153.7h3.6M420.4 129.2h3.6M420.4 104.8h3.6M420.4 80.4h3.6M420.4 55.9h3.6M420.4 31.5h3.6" stroke="#000" stroke-width="0.8" fill="none"/>
<text transform="translate(468.9 105.0) rotate(-90)" text-anchor="middle" font-size="15.3" textLength="125.6" lengthAdjust="spacingAndGlyphs" font-family="Liberation Sans, sans-serif">U zonal wind (m/s)</text>
<rect x="397.3" y="476.59" width="8.9" height="7.71" fill="#35429b"/>
<rect x="397.3" y="469.18" width="8.9" height="7.71" fill="#3e5ea8"/>
<rect x="397.3" y="461.77" width="8.9" height="7.71" fill="#4676b5"/>
<rect x="397.3" y="454.37" width="8.9" height="7.71" fill="#5a8ec1"/>
<rect x="397.3" y="446.96" width="8.9" height="7.71" fill="#6ea6ce"/>
<rect x="397.3" y="439.55" width="8.9" height="7.71" fill="#83b9d8"/>
<rect x="397.3" y="432.14" width="8.9" height="7.71" fill="#9bcce2"/>
<rect x="397.3" y="424.73" width="8.9" height="7.71" fill="#b2ddeb"/>
<rect x="397.3" y="417.32" width="8.9" height="7.71" fill="#c7e7f1"/>
<rect x="397.3" y="409.92" width="8.9" height="7.71" fill="#def2f7"/>
<rect x="397.3" y="402.51" width="8.9" height="7.71" fill="#ecf8e2"/>
<rect x="397.3" y="395.10" width="8.9" height="7.71" fill="#f8fccb"/>
<rect x="397.3" y="387.69" width="8.9" height="7.71" fill="#fff8b5"/>
<rect x="397.3" y="380.28" width="8.9" height="7.71" fill="#feeba1"/>
<rect x="397.3" y="372.88" width="8.9" height="7.71" fill="#fede8e"/>
<rect x="397.3" y="365.47" width="8.9" height="7.71" fill="#fec87a"/>
<rect x="397.3" y="358.06" width="8.9" height="7.71" fill="#fdb366"/>
<rect x="397.3" y="350.65" width="8.9" height="7.71" fill="#fa9b58"/>
<rect x="397.3" y="343.24" width="8.9" height="7.71" fill="#f67f4b"/>
<rect x="397.3" y="335.83" width="8.9" height="7.71" fill="#ef633f"/>
<rect x="397.3" y="328.42" width="8.9" height="7.71" fill="#e44c34"/>
<rect x="397.3" y="321.02" width="8.9" height="7.71" fill="#d83128"/>
<rect x="397.3" y="313.61" width="8.9" height="7.71" fill="#c21c27"/>
<rect x="397.3" y="306.20" width="8.9" height="7.71" fill="#af0926"/>
<path d="M397.3 484.0L406.2 484.0L406.2 306.2L397.3 306.2z" fill="none" stroke="#000" stroke-width="0.8" stroke-linejoin="miter"/>
<path d="M415.0 484.5h7.9" stroke="#000" stroke-width="0.85" fill="none"/><text x="424.0" y="488.4" font-size="13.0" font-family="Liberation Serif, serif">0.060</text>
<path d="M415.0 462.5h7.9" stroke="#000" stroke-width="0.85" fill="none"/><text x="424.0" y="466.2" font-size="13.0" font-family="Liberation Serif, serif">0.045</text>
<path d="M415.0 440.5h7.9" stroke="#000" stroke-width="0.85" fill="none"/><text x="424.0" y="443.9" font-size="13.0" font-family="Liberation Serif, serif">0.030</text>
<path d="M415.0 418.5h7.9" stroke="#000" stroke-width="0.85" fill="none"/><text x="424.0" y="421.7" font-size="13.0" font-family="Liberation Serif, serif">0.015</text>
<text x="414.0" y="399.5" font-size="13.0" font-family="Liberation Serif, serif">0.000</text>
<text x="414.0" y="377.3" font-size="13.0" font-family="Liberation Serif, serif">0.015</text>
<text x="414.0" y="355.0" font-size="13.0" font-family="Liberation Serif, serif">0.030</text>
<text x="414.0" y="332.8" font-size="13.0" font-family="Liberation Serif, serif">0.045</text>
<text x="414.0" y="310.6" font-size="13.0" font-family="Liberation Serif, serif">0.060</text>
<path d="M406.2 484.0h3.6M406.2 461.8h3.6M406.2 439.6h3.6M406.2 417.3h3.6M406.2 395.1h3.6M406.2 372.9h3.6M406.2 350.6h3.6M406.2 328.4h3.6M406.2 306.2h3.6" stroke="#000" stroke-width="0.8" fill="none"/>
<text transform="translate(471.8 395.4) rotate(-90)" text-anchor="middle" font-size="15.3" textLength="161.0" lengthAdjust="spacingAndGlyphs" font-family="Liberation Sans, sans-serif">V meridional wind (m/s)</text>
<rect x="397.3" y="766.40" width="8.9" height="7.70" fill="#35429b"/>
<rect x="397.3" y="759.00" width="8.9" height="7.70" fill="#3d5ba7"/>
<rect x="397.3" y="751.60" width="8.9" height="7.70" fill="#4676b5"/>
<rect x="397.3" y="744.20" width="8.9" height="7.70" fill="#5a8ec1"/>
<rect x="397.3" y="736.80" width="8.9" height="7.70" fill="#6da4cc"/>
<rect x="397.3" y="729.40" width="8.9" height="7.70" fill="#83b9d8"/>
<rect x="397.3" y="722.00" width="8.9" height="7.70" fill="#9bcce2"/>
<rect x="397.3" y="714.60" width="8.9" height="7.70" fill="#b2ddeb"/>
<rect x="397.3" y="707.20" width="8.9" height="7.70" fill="#c7e7f1"/>
<rect x="397.3" y="699.80" width="8.9" height="7.70" fill="#def2f7"/>
<rect x="397.3" y="692.40" width="8.9" height="7.70" fill="#ebf7e4"/>
<rect x="397.3" y="685.00" width="8.9" height="7.70" fill="#f8fccb"/>
<rect x="397.3" y="677.60" width="8.9" height="7.70" fill="#fff8b5"/>
<rect x="397.3" y="670.20" width="8.9" height="7.70" fill="#feeba1"/>
<rect x="397.3" y="662.80" width="8.9" height="7.70" fill="#fede8e"/>
<rect x="397.3" y="655.40" width="8.9" height="7.70" fill="#fec87a"/>
<rect x="397.3" y="648.00" width="8.9" height="7.70" fill="#fdb366"/>
<rect x="397.3" y="640.60" width="8.9" height="7.70" fill="#fa9b58"/>
<rect x="397.3" y="633.20" width="8.9" height="7.70" fill="#f67f4b"/>
<rect x="397.3" y="625.80" width="8.9" height="7.70" fill="#f16640"/>
<rect x="397.3" y="618.40" width="8.9" height="7.70" fill="#e44c34"/>
<rect x="397.3" y="611.00" width="8.9" height="7.70" fill="#d83128"/>
<rect x="397.3" y="603.60" width="8.9" height="7.70" fill="#c21c27"/>
<rect x="397.3" y="596.20" width="8.9" height="7.70" fill="#af0926"/>
<path d="M397.3 773.8L401.8 782.2L406.2 773.8z" fill="#313695"/>
<path d="M397.3 773.8L401.8 782.2L406.2 773.8L406.2 596.2L397.3 596.2z" fill="none" stroke="#000" stroke-width="0.8" stroke-linejoin="miter"/>
<path d="M415.0 774.5h7.9" stroke="#000" stroke-width="0.85" fill="none"/><text x="424.0" y="778.2" font-size="13.0" font-family="Liberation Serif, serif">0.100</text>
<path d="M415.0 752.5h7.9" stroke="#000" stroke-width="0.85" fill="none"/><text x="424.0" y="756.0" font-size="13.0" font-family="Liberation Serif, serif">0.075</text>
<path d="M415.0 730.5h7.9" stroke="#000" stroke-width="0.85" fill="none"/><text x="424.0" y="733.8" font-size="13.0" font-family="Liberation Serif, serif">0.050</text>
<path d="M415.0 708.5h7.9" stroke="#000" stroke-width="0.85" fill="none"/><text x="424.0" y="711.6" font-size="13.0" font-family="Liberation Serif, serif">0.025</text>
<text x="414.0" y="689.4" font-size="13.0" font-family="Liberation Serif, serif">0.000</text>
<text x="414.0" y="667.2" font-size="13.0" font-family="Liberation Serif, serif">0.025</text>
<text x="414.0" y="645.0" font-size="13.0" font-family="Liberation Serif, serif">0.050</text>
<text x="414.0" y="622.8" font-size="13.0" font-family="Liberation Serif, serif">0.075</text>
<text x="414.0" y="600.6" font-size="13.0" font-family="Liberation Serif, serif">0.100</text>
<path d="M406.2 773.8h3.6M406.2 751.6h3.6M406.2 729.4h3.6M406.2 707.2h3.6M406.2 685.0h3.6M406.2 662.8h3.6M406.2 640.6h3.6M406.2 618.4h3.6M406.2 596.2h3.6" stroke="#000" stroke-width="0.8" fill="none"/>
<text transform="translate(471.8 690.3) rotate(-90)" text-anchor="middle" font-size="15.3" textLength="155.5" lengthAdjust="spacingAndGlyphs" font-family="Liberation Sans, sans-serif">W vertical wind (mm/s)</text>
</svg>
</body></html>
